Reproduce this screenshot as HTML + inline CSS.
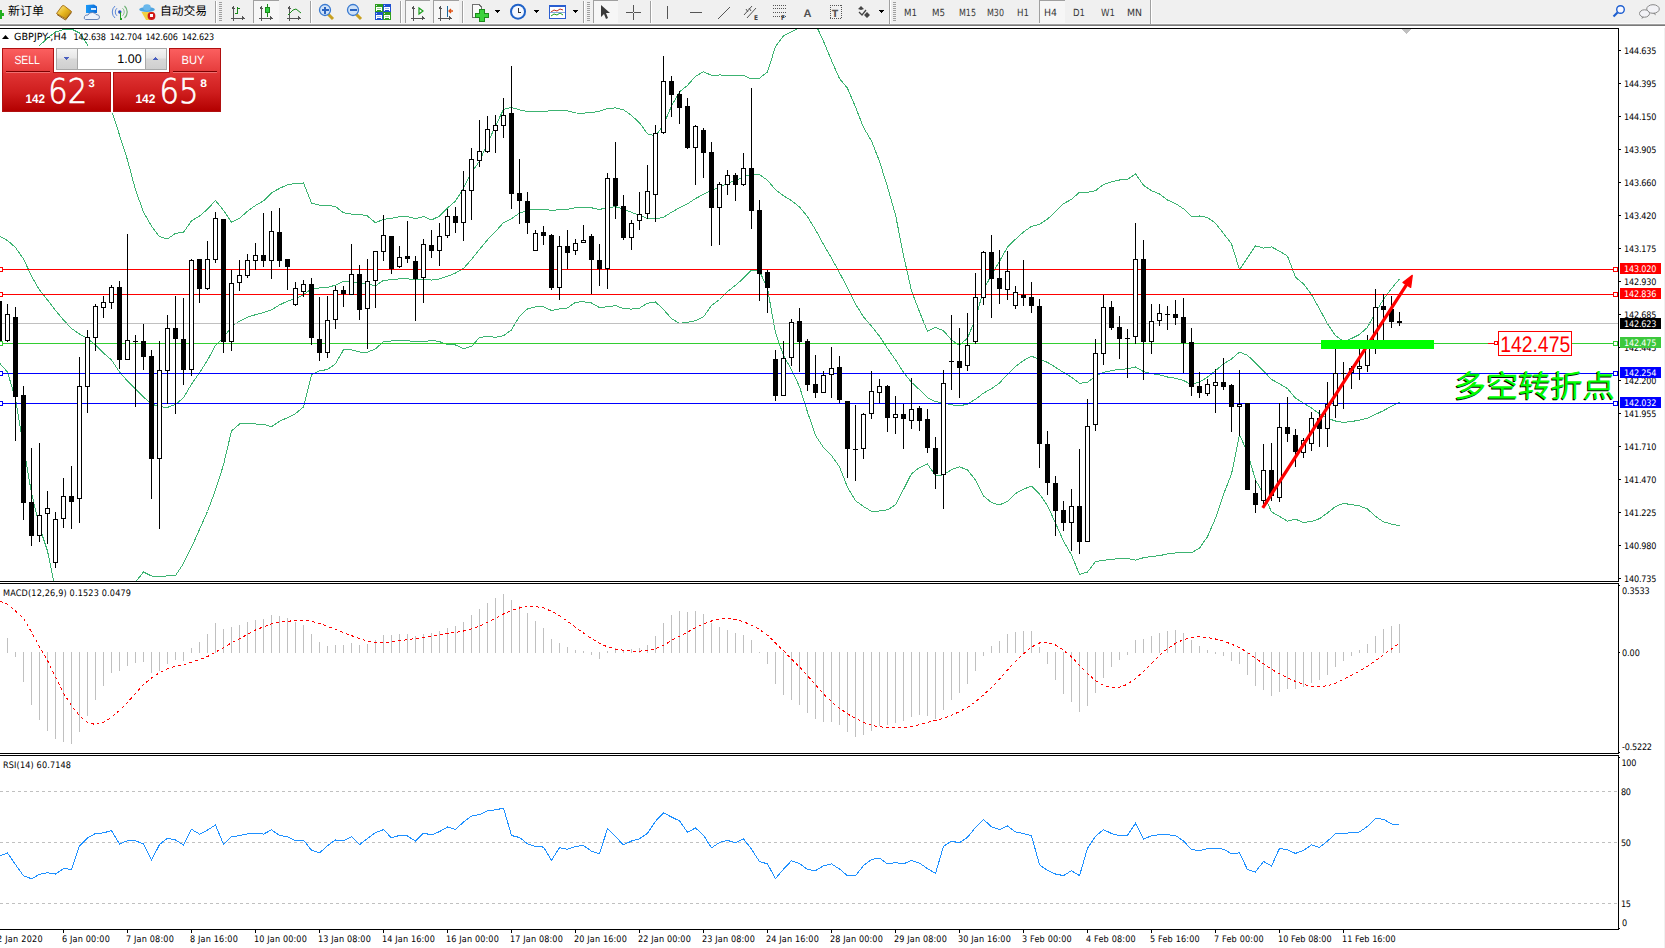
<!DOCTYPE html>
<html><head><meta charset="utf-8"><title>GBPJPY-,H4</title>
<style>html,body{margin:0;padding:0;background:#fff;overflow:hidden}svg{display:block}</style>
</head><body>
<svg width="1665" height="948" viewBox="0 0 1665 948" shape-rendering="crispEdges" text-rendering="geometricPrecision">
<clipPath id="cm"><rect x="0" y="29" width="1618" height="552"/></clipPath>
<clipPath id="cd"><rect x="0" y="584" width="1618" height="169"/></clipPath>
<clipPath id="cr"><rect x="0" y="756" width="1618" height="173"/></clipPath>
<g clip-path="url(#cm)">
<path d="M-0.5,109.0 L7.5,109.0 L15.5,96.0 L23.5,75.0 L31.5,60.0 L39.5,45.7 L47.5,38.0 L55.5,32.0 L63.5,29.5 L71.5,29.0 L79.5,33.0 L87.5,44.5 L95.5,62.0 L103.5,86.0 L111.5,110.0 L119.5,135.0 L127.5,160.0 L135.5,190.0 L143.5,212.0 L151.5,226.0 L159.5,236.7 L167.5,238.9 L175.5,233.4 L183.5,232.3 L191.5,220.8 L199.5,216.1 L207.5,209.2 L215.5,200.5 L223.5,210.4 L231.5,222.3 L239.5,218.2 L247.5,211.3 L255.5,205.4 L263.5,200.9 L271.5,192.9 L279.5,188.4 L287.5,184.8 L295.5,183.5 L303.5,183.0 L311.5,203.0 L319.5,205.2 L327.5,205.5 L335.5,206.5 L343.5,212.8 L351.5,214.1 L359.5,214.1 L367.5,216.0 L375.5,222.8 L383.5,219.3 L391.5,218.4 L399.5,216.7 L407.5,216.6 L415.5,218.8 L423.5,216.5 L431.5,219.9 L439.5,216.2 L447.5,207.9 L455.5,201.1 L463.5,188.1 L471.5,172.5 L479.5,161.2 L487.5,143.3 L495.5,125.8 L503.5,109.5 L511.5,107.4 L519.5,109.9 L527.5,111.6 L535.5,111.9 L543.5,111.9 L551.5,110.2 L559.5,110.6 L567.5,110.9 L575.5,113.0 L583.5,113.1 L591.5,112.6 L599.5,111.3 L607.5,108.5 L615.5,107.9 L623.5,109.7 L631.5,115.5 L639.5,122.8 L647.5,133.8 L655.5,136.0 L663.5,124.9 L671.5,105.9 L679.5,91.9 L687.5,85.4 L695.5,76.2 L703.5,71.8 L711.5,75.3 L719.5,75.0 L727.5,75.1 L735.5,75.6 L743.5,75.5 L751.5,79.0 L759.5,78.2 L767.5,71.9 L775.5,46.5 L783.5,35.8 L791.5,31.8 L799.5,27.3 L807.5,21.4 L815.5,24.0 L823.5,41.3 L831.5,60.5 L839.5,78.6 L847.5,88.2 L855.5,107.1 L863.5,127.4 L871.5,140.9 L879.5,161.4 L887.5,186.9 L895.5,214.8 L903.5,255.4 L911.5,290.9 L919.5,311.8 L927.5,331.4 L935.5,327.4 L943.5,330.8 L951.5,339.9 L959.5,345.3 L967.5,338.2 L975.5,318.5 L983.5,290.2 L991.5,274.7 L999.5,261.3 L1007.5,247.0 L1015.5,239.2 L1023.5,232.0 L1031.5,226.4 L1039.5,224.3 L1047.5,219.2 L1055.5,211.4 L1063.5,203.7 L1071.5,199.4 L1079.5,192.2 L1087.5,192.3 L1095.5,190.7 L1103.5,184.5 L1111.5,181.9 L1119.5,180.0 L1127.5,179.4 L1135.5,173.9 L1143.5,185.3 L1151.5,190.7 L1159.5,193.9 L1167.5,200.1 L1175.5,203.5 L1183.5,208.8 L1191.5,216.4 L1199.5,216.0 L1207.5,217.5 L1215.5,223.2 L1223.5,233.5 L1231.5,243.8 L1239.5,269.6 L1247.5,257.9 L1255.5,245.8 L1263.5,248.1 L1271.5,246.9 L1279.5,251.2 L1287.5,256.1 L1295.5,277.3 L1303.5,283.8 L1311.5,294.6 L1319.5,308.9 L1327.5,323.7 L1335.5,335.6 L1343.5,341.6 L1351.5,338.5 L1359.5,334.5 L1367.5,327.3 L1375.5,312.4 L1383.5,299.3 L1391.5,288.5 L1399.5,279.0" fill="none" stroke="#3cb371" stroke-width="1"/>
<path d="M-0.5,236.0 L7.5,240.5 L15.5,247.5 L23.5,259.0 L31.5,276.0 L39.5,290.0 L47.5,300.0 L55.5,310.5 L63.5,320.0 L71.5,328.5 L79.5,334.0 L87.5,338.5 L95.5,345.0 L103.5,353.0 L111.5,360.0 L119.5,372.0 L127.5,381.0 L135.5,389.0 L143.5,397.0 L151.5,404.0 L159.5,406.7 L167.5,407.4 L175.5,404.5 L183.5,397.8 L191.5,384.1 L199.5,372.8 L207.5,360.3 L215.5,345.3 L223.5,337.6 L231.5,326.6 L239.5,321.1 L247.5,317.2 L255.5,314.7 L263.5,312.6 L271.5,309.8 L279.5,304.9 L287.5,301.2 L295.5,298.5 L303.5,294.9 L311.5,288.8 L319.5,288.0 L327.5,287.5 L335.5,285.1 L343.5,281.3 L351.5,282.0 L359.5,283.0 L367.5,284.1 L375.5,285.8 L383.5,280.4 L391.5,279.7 L399.5,278.8 L407.5,278.8 L415.5,280.0 L423.5,279.1 L431.5,280.1 L439.5,278.9 L447.5,276.3 L455.5,273.1 L463.5,268.4 L471.5,259.4 L479.5,249.4 L487.5,239.8 L495.5,231.6 L503.5,222.6 L511.5,218.6 L519.5,213.1 L527.5,210.3 L535.5,209.4 L543.5,209.4 L551.5,210.3 L559.5,209.8 L567.5,209.4 L575.5,207.6 L583.5,207.4 L591.5,207.8 L599.5,209.5 L607.5,207.6 L615.5,206.7 L623.5,209.1 L631.5,212.3 L639.5,215.4 L647.5,218.5 L655.5,218.9 L663.5,217.2 L671.5,212.3 L679.5,207.6 L687.5,203.8 L695.5,198.5 L703.5,194.4 L711.5,190.3 L719.5,187.3 L727.5,183.4 L735.5,180.5 L743.5,176.9 L751.5,174.4 L759.5,174.7 L767.5,180.2 L775.5,189.7 L783.5,195.7 L791.5,200.6 L799.5,207.0 L807.5,216.7 L815.5,229.7 L823.5,244.4 L831.5,258.1 L839.5,272.7 L847.5,287.7 L855.5,303.9 L863.5,316.9 L871.5,326.1 L879.5,336.2 L887.5,348.4 L895.5,359.8 L903.5,372.4 L911.5,382.3 L919.5,389.7 L927.5,397.7 L935.5,401.6 L943.5,402.8 L951.5,404.8 L959.5,406.0 L967.5,404.0 L975.5,399.3 L983.5,393.1 L991.5,388.7 L999.5,383.1 L1007.5,374.2 L1015.5,366.4 L1023.5,360.5 L1031.5,356.3 L1039.5,359.2 L1047.5,362.4 L1055.5,367.3 L1063.5,372.4 L1071.5,377.3 L1079.5,383.3 L1087.5,382.2 L1095.5,376.1 L1103.5,372.3 L1111.5,370.7 L1119.5,369.2 L1127.5,368.9 L1135.5,367.0 L1143.5,371.5 L1151.5,373.6 L1159.5,374.8 L1167.5,377.0 L1175.5,378.2 L1183.5,380.5 L1191.5,384.6 L1199.5,382.0 L1207.5,377.1 L1215.5,370.7 L1223.5,363.9 L1231.5,359.0 L1239.5,352.1 L1247.5,355.3 L1255.5,362.9 L1263.5,371.0 L1271.5,379.4 L1279.5,383.8 L1287.5,388.6 L1295.5,398.2 L1303.5,403.1 L1311.5,408.0 L1319.5,413.8 L1327.5,418.3 L1335.5,421.0 L1343.5,422.5 L1351.5,421.5 L1359.5,420.2 L1367.5,418.1 L1375.5,414.4 L1383.5,410.6 L1391.5,406.3 L1399.5,402.3" fill="none" stroke="#3cb371" stroke-width="1"/>
<path d="M-0.5,363.0 L7.5,372.0 L15.5,399.0 L23.5,447.0 L31.5,493.0 L39.5,527.0 L47.5,551.0 L55.5,590.0 L63.5,620.0 L71.5,630.0 L79.5,630.0 L87.5,630.0 L95.5,630.0 L103.5,620.0 L111.5,610.0 L119.5,600.0 L127.5,590.0 L135.5,582.0 L143.5,572.0 L151.5,576.0 L159.5,576.6 L167.5,575.9 L175.5,575.6 L183.5,563.4 L191.5,547.4 L199.5,529.4 L207.5,511.5 L215.5,490.0 L223.5,464.8 L231.5,431.0 L239.5,424.0 L247.5,423.2 L255.5,424.0 L263.5,424.3 L271.5,426.7 L279.5,421.3 L287.5,417.6 L295.5,413.6 L303.5,406.9 L311.5,374.6 L319.5,370.7 L327.5,369.6 L335.5,363.7 L343.5,349.8 L351.5,349.9 L359.5,352.0 L367.5,352.2 L375.5,348.8 L383.5,341.6 L391.5,341.0 L399.5,340.9 L407.5,340.9 L415.5,341.2 L423.5,341.8 L431.5,340.3 L439.5,341.6 L447.5,344.7 L455.5,345.0 L463.5,348.6 L471.5,346.4 L479.5,337.5 L487.5,336.4 L495.5,337.3 L503.5,335.8 L511.5,329.9 L519.5,316.3 L527.5,308.9 L535.5,306.8 L543.5,306.9 L551.5,310.5 L559.5,308.9 L567.5,308.0 L575.5,302.2 L583.5,301.7 L591.5,303.0 L599.5,307.6 L607.5,306.7 L615.5,305.6 L623.5,308.5 L631.5,309.1 L639.5,308.1 L647.5,303.2 L655.5,301.9 L663.5,309.5 L671.5,318.7 L679.5,323.4 L687.5,322.3 L695.5,320.8 L703.5,316.9 L711.5,305.4 L719.5,299.5 L727.5,291.6 L735.5,285.3 L743.5,278.2 L751.5,269.9 L759.5,271.1 L767.5,288.5 L775.5,332.9 L783.5,355.5 L791.5,369.5 L799.5,386.7 L807.5,412.1 L815.5,435.4 L823.5,447.5 L831.5,455.6 L839.5,466.8 L847.5,487.3 L855.5,500.7 L863.5,506.5 L871.5,511.3 L879.5,511.0 L887.5,509.8 L895.5,504.8 L903.5,489.4 L911.5,473.7 L919.5,467.6 L927.5,464.0 L935.5,475.7 L943.5,474.8 L951.5,469.7 L959.5,466.8 L967.5,469.9 L975.5,480.0 L983.5,496.0 L991.5,502.6 L999.5,504.9 L1007.5,501.4 L1015.5,493.5 L1023.5,489.1 L1031.5,486.2 L1039.5,494.0 L1047.5,505.6 L1055.5,523.1 L1063.5,541.1 L1071.5,555.1 L1079.5,574.4 L1087.5,572.0 L1095.5,561.5 L1103.5,560.2 L1111.5,559.5 L1119.5,558.5 L1127.5,558.4 L1135.5,560.1 L1143.5,557.7 L1151.5,556.5 L1159.5,555.7 L1167.5,553.9 L1175.5,553.0 L1183.5,552.2 L1191.5,552.8 L1199.5,548.1 L1207.5,536.7 L1215.5,518.2 L1223.5,494.3 L1231.5,474.1 L1239.5,434.5 L1247.5,452.6 L1255.5,480.0 L1263.5,493.9 L1271.5,511.9 L1279.5,516.4 L1287.5,521.1 L1295.5,519.2 L1303.5,522.5 L1311.5,521.4 L1319.5,518.7 L1327.5,512.9 L1335.5,506.5 L1343.5,503.4 L1351.5,504.6 L1359.5,505.9 L1367.5,509.0 L1375.5,516.4 L1383.5,521.8 L1391.5,524.1 L1399.5,525.6" fill="none" stroke="#3cb371" stroke-width="1"/>
<rect x="0" y="323" width="1618" height="1" fill="#c0c0c0" />
<rect x="0" y="269" width="1618" height="1" fill="#ff0000" />
<rect x="0" y="294" width="1618" height="1" fill="#ff0000" />
<rect x="0" y="373" width="1618" height="1" fill="#0000ff" />
<rect x="0" y="403" width="1618" height="1" fill="#0000ff" />
<rect x="0" y="343" width="1618" height="1" fill="#32cd32" />
<rect x="-1" y="301" width="1" height="44" fill="#000" />
<rect x="-3" y="301" width="5" height="40" fill="#000" />
<rect x="7" y="304" width="1" height="38" fill="#000" />
<rect x="5" y="314" width="5" height="27" fill="#000" />
<rect x="6" y="315" width="3" height="25" fill="#fff" />
<rect x="15" y="307" width="1" height="134" fill="#000" />
<rect x="13" y="317" width="5" height="80" fill="#000" />
<rect x="23" y="386" width="1" height="134" fill="#000" />
<rect x="21" y="395" width="5" height="108" fill="#000" />
<rect x="31" y="448" width="1" height="98" fill="#000" />
<rect x="29" y="502" width="5" height="34" fill="#000" />
<rect x="39" y="443" width="1" height="99" fill="#000" />
<rect x="37" y="515" width="5" height="21" fill="#000" />
<rect x="38" y="516" width="3" height="19" fill="#fff" />
<rect x="47" y="491" width="1" height="53" fill="#000" />
<rect x="45" y="508" width="5" height="6" fill="#000" />
<rect x="46" y="509" width="3" height="4" fill="#fff" />
<rect x="55" y="512" width="1" height="56" fill="#000" />
<rect x="53" y="519" width="5" height="44" fill="#000" />
<rect x="54" y="520" width="3" height="42" fill="#fff" />
<rect x="63" y="478" width="1" height="50" fill="#000" />
<rect x="61" y="496" width="5" height="23" fill="#000" />
<rect x="62" y="497" width="3" height="21" fill="#fff" />
<rect x="71" y="466" width="1" height="63" fill="#000" />
<rect x="69" y="496" width="5" height="6" fill="#000" />
<rect x="79" y="357" width="1" height="166" fill="#000" />
<rect x="77" y="386" width="5" height="113" fill="#000" />
<rect x="78" y="387" width="3" height="111" fill="#fff" />
<rect x="87" y="330" width="1" height="83" fill="#000" />
<rect x="85" y="337" width="5" height="50" fill="#000" />
<rect x="86" y="338" width="3" height="48" fill="#fff" />
<rect x="95" y="304" width="1" height="47" fill="#000" />
<rect x="93" y="306" width="5" height="32" fill="#000" />
<rect x="94" y="307" width="3" height="30" fill="#fff" />
<rect x="103" y="296" width="1" height="22" fill="#000" />
<rect x="101" y="302" width="5" height="6" fill="#000" />
<rect x="102" y="303" width="3" height="4" fill="#fff" />
<rect x="111" y="285" width="1" height="24" fill="#000" />
<rect x="109" y="287" width="5" height="16" fill="#000" />
<rect x="110" y="288" width="3" height="14" fill="#fff" />
<rect x="119" y="281" width="1" height="88" fill="#000" />
<rect x="117" y="287" width="5" height="73" fill="#000" />
<rect x="127" y="234" width="1" height="126" fill="#000" />
<rect x="125" y="340" width="5" height="20" fill="#000" />
<rect x="126" y="341" width="3" height="18" fill="#fff" />
<rect x="135" y="335" width="1" height="72" fill="#000" />
<rect x="133" y="341" width="5" height="1" fill="#000" />
<rect x="143" y="324" width="1" height="46" fill="#000" />
<rect x="141" y="341" width="5" height="16" fill="#000" />
<rect x="151" y="350" width="1" height="149" fill="#000" />
<rect x="149" y="356" width="5" height="103" fill="#000" />
<rect x="159" y="341" width="1" height="188" fill="#000" />
<rect x="157" y="370" width="5" height="89" fill="#000" />
<rect x="158" y="371" width="3" height="87" fill="#fff" />
<rect x="167" y="315" width="1" height="89" fill="#000" />
<rect x="165" y="328" width="5" height="43" fill="#000" />
<rect x="166" y="329" width="3" height="41" fill="#fff" />
<rect x="175" y="296" width="1" height="118" fill="#000" />
<rect x="173" y="328" width="5" height="11" fill="#000" />
<rect x="183" y="298" width="1" height="87" fill="#000" />
<rect x="181" y="339" width="5" height="31" fill="#000" />
<rect x="191" y="259" width="1" height="117" fill="#000" />
<rect x="189" y="260" width="5" height="110" fill="#000" />
<rect x="190" y="261" width="3" height="108" fill="#fff" />
<rect x="199" y="259" width="1" height="44" fill="#000" />
<rect x="197" y="259" width="5" height="30" fill="#000" />
<rect x="207" y="241" width="1" height="49" fill="#000" />
<rect x="205" y="259" width="5" height="30" fill="#000" />
<rect x="206" y="260" width="3" height="28" fill="#fff" />
<rect x="215" y="212" width="1" height="51" fill="#000" />
<rect x="213" y="218" width="5" height="42" fill="#000" />
<rect x="214" y="219" width="3" height="40" fill="#fff" />
<rect x="223" y="219" width="1" height="134" fill="#000" />
<rect x="221" y="219" width="5" height="123" fill="#000" />
<rect x="231" y="270" width="1" height="81" fill="#000" />
<rect x="229" y="283" width="5" height="59" fill="#000" />
<rect x="230" y="284" width="3" height="57" fill="#fff" />
<rect x="239" y="260" width="1" height="31" fill="#000" />
<rect x="237" y="275" width="5" height="8" fill="#000" />
<rect x="238" y="276" width="3" height="6" fill="#fff" />
<rect x="247" y="254" width="1" height="24" fill="#000" />
<rect x="245" y="260" width="5" height="16" fill="#000" />
<rect x="246" y="261" width="3" height="14" fill="#fff" />
<rect x="255" y="243" width="1" height="27" fill="#000" />
<rect x="253" y="255" width="5" height="6" fill="#000" />
<rect x="254" y="256" width="3" height="4" fill="#fff" />
<rect x="263" y="213" width="1" height="54" fill="#000" />
<rect x="261" y="255" width="5" height="6" fill="#000" />
<rect x="271" y="211" width="1" height="68" fill="#000" />
<rect x="269" y="231" width="5" height="30" fill="#000" />
<rect x="270" y="232" width="3" height="28" fill="#fff" />
<rect x="279" y="208" width="1" height="59" fill="#000" />
<rect x="277" y="232" width="5" height="29" fill="#000" />
<rect x="287" y="259" width="1" height="31" fill="#000" />
<rect x="285" y="259" width="5" height="8" fill="#000" />
<rect x="295" y="282" width="1" height="24" fill="#000" />
<rect x="293" y="288" width="5" height="17" fill="#000" />
<rect x="294" y="289" width="3" height="15" fill="#fff" />
<rect x="303" y="280" width="1" height="17" fill="#000" />
<rect x="301" y="284" width="5" height="8" fill="#000" />
<rect x="302" y="285" width="3" height="6" fill="#fff" />
<rect x="311" y="278" width="1" height="67" fill="#000" />
<rect x="309" y="284" width="5" height="54" fill="#000" />
<rect x="319" y="297" width="1" height="64" fill="#000" />
<rect x="317" y="339" width="5" height="14" fill="#000" />
<rect x="327" y="296" width="1" height="62" fill="#000" />
<rect x="325" y="320" width="5" height="33" fill="#000" />
<rect x="326" y="321" width="3" height="31" fill="#fff" />
<rect x="335" y="286" width="1" height="43" fill="#000" />
<rect x="333" y="290" width="5" height="30" fill="#000" />
<rect x="334" y="291" width="3" height="28" fill="#fff" />
<rect x="343" y="286" width="1" height="21" fill="#000" />
<rect x="341" y="290" width="5" height="4" fill="#000" />
<rect x="351" y="244" width="1" height="51" fill="#000" />
<rect x="349" y="274" width="5" height="21" fill="#000" />
<rect x="350" y="275" width="3" height="19" fill="#fff" />
<rect x="359" y="265" width="1" height="55" fill="#000" />
<rect x="357" y="274" width="5" height="36" fill="#000" />
<rect x="367" y="259" width="1" height="90" fill="#000" />
<rect x="365" y="281" width="5" height="28" fill="#000" />
<rect x="366" y="282" width="3" height="26" fill="#fff" />
<rect x="375" y="251" width="1" height="57" fill="#000" />
<rect x="373" y="251" width="5" height="30" fill="#000" />
<rect x="374" y="252" width="3" height="28" fill="#fff" />
<rect x="383" y="215" width="1" height="46" fill="#000" />
<rect x="381" y="235" width="5" height="17" fill="#000" />
<rect x="382" y="236" width="3" height="15" fill="#fff" />
<rect x="391" y="236" width="1" height="38" fill="#000" />
<rect x="389" y="236" width="5" height="33" fill="#000" />
<rect x="399" y="246" width="1" height="22" fill="#000" />
<rect x="397" y="257" width="5" height="10" fill="#000" />
<rect x="398" y="258" width="3" height="8" fill="#fff" />
<rect x="407" y="221" width="1" height="42" fill="#000" />
<rect x="405" y="256" width="5" height="3" fill="#000" />
<rect x="415" y="256" width="1" height="65" fill="#000" />
<rect x="413" y="261" width="5" height="18" fill="#000" />
<rect x="423" y="239" width="1" height="64" fill="#000" />
<rect x="421" y="244" width="5" height="34" fill="#000" />
<rect x="422" y="245" width="3" height="32" fill="#fff" />
<rect x="431" y="230" width="1" height="28" fill="#000" />
<rect x="429" y="245" width="5" height="6" fill="#000" />
<rect x="439" y="223" width="1" height="43" fill="#000" />
<rect x="437" y="236" width="5" height="15" fill="#000" />
<rect x="438" y="237" width="3" height="13" fill="#fff" />
<rect x="447" y="209" width="1" height="29" fill="#000" />
<rect x="445" y="216" width="5" height="20" fill="#000" />
<rect x="446" y="217" width="3" height="18" fill="#fff" />
<rect x="455" y="207" width="1" height="26" fill="#000" />
<rect x="453" y="216" width="5" height="7" fill="#000" />
<rect x="463" y="171" width="1" height="70" fill="#000" />
<rect x="461" y="190" width="5" height="33" fill="#000" />
<rect x="462" y="191" width="3" height="31" fill="#fff" />
<rect x="471" y="148" width="1" height="72" fill="#000" />
<rect x="469" y="159" width="5" height="32" fill="#000" />
<rect x="470" y="160" width="3" height="30" fill="#fff" />
<rect x="479" y="120" width="1" height="47" fill="#000" />
<rect x="477" y="151" width="5" height="10" fill="#000" />
<rect x="478" y="152" width="3" height="8" fill="#fff" />
<rect x="487" y="116" width="1" height="37" fill="#000" />
<rect x="485" y="129" width="5" height="23" fill="#000" />
<rect x="486" y="130" width="3" height="21" fill="#fff" />
<rect x="495" y="115" width="1" height="38" fill="#000" />
<rect x="493" y="125" width="5" height="6" fill="#000" />
<rect x="494" y="126" width="3" height="4" fill="#fff" />
<rect x="503" y="98" width="1" height="40" fill="#000" />
<rect x="501" y="115" width="5" height="11" fill="#000" />
<rect x="502" y="116" width="3" height="9" fill="#fff" />
<rect x="511" y="66" width="1" height="143" fill="#000" />
<rect x="509" y="113" width="5" height="81" fill="#000" />
<rect x="519" y="159" width="1" height="65" fill="#000" />
<rect x="517" y="193" width="5" height="8" fill="#000" />
<rect x="527" y="192" width="1" height="42" fill="#000" />
<rect x="525" y="201" width="5" height="22" fill="#000" />
<rect x="535" y="230" width="1" height="21" fill="#000" />
<rect x="533" y="233" width="5" height="18" fill="#000" />
<rect x="534" y="234" width="3" height="16" fill="#fff" />
<rect x="543" y="226" width="1" height="19" fill="#000" />
<rect x="541" y="232" width="5" height="4" fill="#000" />
<rect x="551" y="234" width="1" height="56" fill="#000" />
<rect x="549" y="235" width="5" height="53" fill="#000" />
<rect x="559" y="236" width="1" height="64" fill="#000" />
<rect x="557" y="246" width="5" height="42" fill="#000" />
<rect x="558" y="247" width="3" height="40" fill="#fff" />
<rect x="567" y="230" width="1" height="39" fill="#000" />
<rect x="565" y="246" width="5" height="7" fill="#000" />
<rect x="575" y="239" width="1" height="16" fill="#000" />
<rect x="573" y="243" width="5" height="8" fill="#000" />
<rect x="574" y="244" width="3" height="6" fill="#fff" />
<rect x="583" y="225" width="1" height="18" fill="#000" />
<rect x="581" y="240" width="5" height="3" fill="#000" />
<rect x="582" y="241" width="3" height="1" fill="#fff" />
<rect x="591" y="234" width="1" height="60" fill="#000" />
<rect x="589" y="236" width="5" height="24" fill="#000" />
<rect x="599" y="244" width="1" height="42" fill="#000" />
<rect x="597" y="260" width="5" height="9" fill="#000" />
<rect x="607" y="173" width="1" height="116" fill="#000" />
<rect x="605" y="178" width="5" height="91" fill="#000" />
<rect x="606" y="179" width="3" height="89" fill="#fff" />
<rect x="615" y="142" width="1" height="77" fill="#000" />
<rect x="613" y="178" width="5" height="28" fill="#000" />
<rect x="623" y="195" width="1" height="45" fill="#000" />
<rect x="621" y="206" width="5" height="32" fill="#000" />
<rect x="631" y="220" width="1" height="30" fill="#000" />
<rect x="629" y="223" width="5" height="15" fill="#000" />
<rect x="630" y="224" width="3" height="13" fill="#fff" />
<rect x="639" y="192" width="1" height="38" fill="#000" />
<rect x="637" y="214" width="5" height="7" fill="#000" />
<rect x="638" y="215" width="3" height="5" fill="#fff" />
<rect x="647" y="165" width="1" height="54" fill="#000" />
<rect x="645" y="191" width="5" height="23" fill="#000" />
<rect x="646" y="192" width="3" height="21" fill="#fff" />
<rect x="655" y="125" width="1" height="97" fill="#000" />
<rect x="653" y="133" width="5" height="62" fill="#000" />
<rect x="654" y="134" width="3" height="60" fill="#fff" />
<rect x="663" y="56" width="1" height="78" fill="#000" />
<rect x="661" y="81" width="5" height="52" fill="#000" />
<rect x="662" y="82" width="3" height="50" fill="#fff" />
<rect x="671" y="76" width="1" height="41" fill="#000" />
<rect x="669" y="81" width="5" height="14" fill="#000" />
<rect x="679" y="91" width="1" height="33" fill="#000" />
<rect x="677" y="94" width="5" height="14" fill="#000" />
<rect x="687" y="98" width="1" height="51" fill="#000" />
<rect x="685" y="106" width="5" height="42" fill="#000" />
<rect x="695" y="125" width="1" height="60" fill="#000" />
<rect x="693" y="126" width="5" height="22" fill="#000" />
<rect x="694" y="127" width="3" height="20" fill="#fff" />
<rect x="703" y="128" width="1" height="50" fill="#000" />
<rect x="701" y="130" width="5" height="23" fill="#000" />
<rect x="711" y="142" width="1" height="104" fill="#000" />
<rect x="709" y="152" width="5" height="56" fill="#000" />
<rect x="719" y="182" width="1" height="63" fill="#000" />
<rect x="717" y="184" width="5" height="24" fill="#000" />
<rect x="718" y="185" width="3" height="22" fill="#fff" />
<rect x="727" y="170" width="1" height="25" fill="#000" />
<rect x="725" y="175" width="5" height="10" fill="#000" />
<rect x="726" y="176" width="3" height="8" fill="#fff" />
<rect x="735" y="173" width="1" height="28" fill="#000" />
<rect x="733" y="175" width="5" height="10" fill="#000" />
<rect x="743" y="153" width="1" height="33" fill="#000" />
<rect x="741" y="168" width="5" height="17" fill="#000" />
<rect x="742" y="169" width="3" height="15" fill="#fff" />
<rect x="751" y="88" width="1" height="141" fill="#000" />
<rect x="749" y="168" width="5" height="43" fill="#000" />
<rect x="759" y="200" width="1" height="101" fill="#000" />
<rect x="757" y="210" width="5" height="64" fill="#000" />
<rect x="767" y="270" width="1" height="43" fill="#000" />
<rect x="765" y="272" width="5" height="16" fill="#000" />
<rect x="775" y="350" width="1" height="51" fill="#000" />
<rect x="773" y="359" width="5" height="37" fill="#000" />
<rect x="783" y="341" width="1" height="55" fill="#000" />
<rect x="781" y="358" width="5" height="38" fill="#000" />
<rect x="782" y="359" width="3" height="36" fill="#fff" />
<rect x="791" y="319" width="1" height="47" fill="#000" />
<rect x="789" y="322" width="5" height="36" fill="#000" />
<rect x="790" y="323" width="3" height="34" fill="#fff" />
<rect x="799" y="308" width="1" height="64" fill="#000" />
<rect x="797" y="321" width="5" height="21" fill="#000" />
<rect x="807" y="339" width="1" height="52" fill="#000" />
<rect x="805" y="341" width="5" height="44" fill="#000" />
<rect x="815" y="355" width="1" height="43" fill="#000" />
<rect x="813" y="384" width="5" height="9" fill="#000" />
<rect x="823" y="371" width="1" height="22" fill="#000" />
<rect x="821" y="375" width="5" height="18" fill="#000" />
<rect x="822" y="376" width="3" height="16" fill="#fff" />
<rect x="831" y="347" width="1" height="51" fill="#000" />
<rect x="829" y="368" width="5" height="7" fill="#000" />
<rect x="830" y="369" width="3" height="5" fill="#fff" />
<rect x="839" y="356" width="1" height="47" fill="#000" />
<rect x="837" y="367" width="5" height="33" fill="#000" />
<rect x="847" y="401" width="1" height="77" fill="#000" />
<rect x="845" y="401" width="5" height="48" fill="#000" />
<rect x="855" y="405" width="1" height="76" fill="#000" />
<rect x="853" y="449" width="5" height="1" fill="#000" />
<rect x="863" y="413" width="1" height="46" fill="#000" />
<rect x="861" y="414" width="5" height="35" fill="#000" />
<rect x="862" y="415" width="3" height="33" fill="#fff" />
<rect x="871" y="371" width="1" height="48" fill="#000" />
<rect x="869" y="391" width="5" height="23" fill="#000" />
<rect x="870" y="392" width="3" height="21" fill="#fff" />
<rect x="879" y="379" width="1" height="24" fill="#000" />
<rect x="877" y="386" width="5" height="7" fill="#000" />
<rect x="878" y="387" width="3" height="5" fill="#fff" />
<rect x="887" y="385" width="1" height="47" fill="#000" />
<rect x="885" y="386" width="5" height="32" fill="#000" />
<rect x="895" y="396" width="1" height="38" fill="#000" />
<rect x="893" y="414" width="5" height="4" fill="#000" />
<rect x="894" y="415" width="3" height="2" fill="#fff" />
<rect x="903" y="404" width="1" height="45" fill="#000" />
<rect x="901" y="414" width="5" height="5" fill="#000" />
<rect x="911" y="378" width="1" height="51" fill="#000" />
<rect x="909" y="409" width="5" height="12" fill="#000" />
<rect x="910" y="410" width="3" height="10" fill="#fff" />
<rect x="919" y="406" width="1" height="25" fill="#000" />
<rect x="917" y="408" width="5" height="13" fill="#000" />
<rect x="927" y="409" width="1" height="44" fill="#000" />
<rect x="925" y="419" width="5" height="29" fill="#000" />
<rect x="935" y="437" width="1" height="52" fill="#000" />
<rect x="933" y="448" width="5" height="26" fill="#000" />
<rect x="943" y="370" width="1" height="139" fill="#000" />
<rect x="941" y="383" width="5" height="92" fill="#000" />
<rect x="942" y="384" width="3" height="90" fill="#fff" />
<rect x="951" y="315" width="1" height="75" fill="#000" />
<rect x="949" y="361" width="5" height="1" fill="#000" />
<rect x="959" y="328" width="1" height="70" fill="#000" />
<rect x="957" y="361" width="5" height="7" fill="#000" />
<rect x="967" y="313" width="1" height="58" fill="#000" />
<rect x="965" y="345" width="5" height="21" fill="#000" />
<rect x="966" y="346" width="3" height="19" fill="#fff" />
<rect x="975" y="273" width="1" height="71" fill="#000" />
<rect x="973" y="297" width="5" height="45" fill="#000" />
<rect x="974" y="298" width="3" height="43" fill="#fff" />
<rect x="983" y="251" width="1" height="54" fill="#000" />
<rect x="981" y="252" width="5" height="46" fill="#000" />
<rect x="982" y="253" width="3" height="44" fill="#fff" />
<rect x="991" y="235" width="1" height="83" fill="#000" />
<rect x="989" y="252" width="5" height="27" fill="#000" />
<rect x="999" y="250" width="1" height="54" fill="#000" />
<rect x="997" y="278" width="5" height="11" fill="#000" />
<rect x="1007" y="251" width="1" height="49" fill="#000" />
<rect x="1005" y="271" width="5" height="19" fill="#000" />
<rect x="1006" y="272" width="3" height="17" fill="#fff" />
<rect x="1015" y="286" width="1" height="23" fill="#000" />
<rect x="1013" y="292" width="5" height="14" fill="#000" />
<rect x="1014" y="293" width="3" height="12" fill="#fff" />
<rect x="1023" y="260" width="1" height="46" fill="#000" />
<rect x="1021" y="295" width="5" height="3" fill="#000" />
<rect x="1031" y="282" width="1" height="31" fill="#000" />
<rect x="1029" y="297" width="5" height="9" fill="#000" />
<rect x="1039" y="299" width="1" height="169" fill="#000" />
<rect x="1037" y="306" width="5" height="138" fill="#000" />
<rect x="1047" y="431" width="1" height="64" fill="#000" />
<rect x="1045" y="444" width="5" height="39" fill="#000" />
<rect x="1055" y="476" width="1" height="60" fill="#000" />
<rect x="1053" y="483" width="5" height="28" fill="#000" />
<rect x="1063" y="501" width="1" height="30" fill="#000" />
<rect x="1061" y="510" width="5" height="13" fill="#000" />
<rect x="1071" y="489" width="1" height="62" fill="#000" />
<rect x="1069" y="506" width="5" height="17" fill="#000" />
<rect x="1070" y="507" width="3" height="15" fill="#fff" />
<rect x="1079" y="449" width="1" height="105" fill="#000" />
<rect x="1077" y="506" width="5" height="36" fill="#000" />
<rect x="1087" y="399" width="1" height="143" fill="#000" />
<rect x="1085" y="426" width="5" height="116" fill="#000" />
<rect x="1086" y="427" width="3" height="114" fill="#fff" />
<rect x="1095" y="339" width="1" height="92" fill="#000" />
<rect x="1093" y="353" width="5" height="72" fill="#000" />
<rect x="1094" y="354" width="3" height="70" fill="#fff" />
<rect x="1103" y="295" width="1" height="70" fill="#000" />
<rect x="1101" y="307" width="5" height="47" fill="#000" />
<rect x="1102" y="308" width="3" height="45" fill="#fff" />
<rect x="1111" y="301" width="1" height="29" fill="#000" />
<rect x="1109" y="307" width="5" height="21" fill="#000" />
<rect x="1119" y="316" width="1" height="43" fill="#000" />
<rect x="1117" y="327" width="5" height="12" fill="#000" />
<rect x="1127" y="329" width="1" height="49" fill="#000" />
<rect x="1125" y="338" width="5" height="1" fill="#000" />
<rect x="1135" y="223" width="1" height="121" fill="#000" />
<rect x="1133" y="259" width="5" height="78" fill="#000" />
<rect x="1134" y="260" width="3" height="76" fill="#fff" />
<rect x="1143" y="240" width="1" height="140" fill="#000" />
<rect x="1141" y="259" width="5" height="83" fill="#000" />
<rect x="1151" y="304" width="1" height="50" fill="#000" />
<rect x="1149" y="321" width="5" height="21" fill="#000" />
<rect x="1150" y="322" width="3" height="19" fill="#fff" />
<rect x="1159" y="304" width="1" height="22" fill="#000" />
<rect x="1157" y="313" width="5" height="8" fill="#000" />
<rect x="1158" y="314" width="3" height="6" fill="#fff" />
<rect x="1167" y="306" width="1" height="24" fill="#000" />
<rect x="1165" y="314" width="5" height="1" fill="#000" />
<rect x="1175" y="300" width="1" height="25" fill="#000" />
<rect x="1173" y="314" width="5" height="4" fill="#000" />
<rect x="1183" y="298" width="1" height="75" fill="#000" />
<rect x="1181" y="317" width="5" height="26" fill="#000" />
<rect x="1191" y="328" width="1" height="68" fill="#000" />
<rect x="1189" y="342" width="5" height="45" fill="#000" />
<rect x="1199" y="372" width="1" height="26" fill="#000" />
<rect x="1197" y="386" width="5" height="7" fill="#000" />
<rect x="1207" y="379" width="1" height="17" fill="#000" />
<rect x="1205" y="384" width="5" height="10" fill="#000" />
<rect x="1206" y="385" width="3" height="8" fill="#fff" />
<rect x="1215" y="369" width="1" height="44" fill="#000" />
<rect x="1213" y="382" width="5" height="4" fill="#000" />
<rect x="1214" y="383" width="3" height="2" fill="#fff" />
<rect x="1223" y="358" width="1" height="32" fill="#000" />
<rect x="1221" y="382" width="5" height="5" fill="#000" />
<rect x="1231" y="384" width="1" height="48" fill="#000" />
<rect x="1229" y="385" width="5" height="22" fill="#000" />
<rect x="1239" y="370" width="1" height="66" fill="#000" />
<rect x="1237" y="404" width="5" height="3" fill="#000" />
<rect x="1238" y="405" width="3" height="1" fill="#fff" />
<rect x="1247" y="403" width="1" height="87" fill="#000" />
<rect x="1245" y="403" width="5" height="87" fill="#000" />
<rect x="1255" y="480" width="1" height="33" fill="#000" />
<rect x="1253" y="493" width="5" height="12" fill="#000" />
<rect x="1263" y="444" width="1" height="60" fill="#000" />
<rect x="1261" y="470" width="5" height="31" fill="#000" />
<rect x="1262" y="471" width="3" height="29" fill="#fff" />
<rect x="1271" y="443" width="1" height="58" fill="#000" />
<rect x="1269" y="470" width="5" height="26" fill="#000" />
<rect x="1279" y="403" width="1" height="99" fill="#000" />
<rect x="1277" y="427" width="5" height="71" fill="#000" />
<rect x="1278" y="428" width="3" height="69" fill="#fff" />
<rect x="1287" y="397" width="1" height="45" fill="#000" />
<rect x="1285" y="427" width="5" height="7" fill="#000" />
<rect x="1295" y="429" width="1" height="38" fill="#000" />
<rect x="1293" y="435" width="5" height="17" fill="#000" />
<rect x="1303" y="438" width="1" height="20" fill="#000" />
<rect x="1301" y="440" width="5" height="13" fill="#000" />
<rect x="1302" y="441" width="3" height="11" fill="#fff" />
<rect x="1311" y="412" width="1" height="39" fill="#000" />
<rect x="1309" y="418" width="5" height="26" fill="#000" />
<rect x="1310" y="419" width="3" height="24" fill="#fff" />
<rect x="1319" y="410" width="1" height="37" fill="#000" />
<rect x="1317" y="418" width="5" height="11" fill="#000" />
<rect x="1327" y="382" width="1" height="65" fill="#000" />
<rect x="1325" y="404" width="5" height="25" fill="#000" />
<rect x="1326" y="405" width="3" height="23" fill="#fff" />
<rect x="1335" y="349" width="1" height="69" fill="#000" />
<rect x="1333" y="373" width="5" height="33" fill="#000" />
<rect x="1334" y="374" width="3" height="31" fill="#fff" />
<rect x="1343" y="362" width="1" height="47" fill="#000" />
<rect x="1341" y="373" width="5" height="1" fill="#000" />
<rect x="1351" y="366" width="1" height="23" fill="#000" />
<rect x="1349" y="368" width="5" height="5" fill="#000" />
<rect x="1350" y="369" width="3" height="3" fill="#fff" />
<rect x="1359" y="349" width="1" height="31" fill="#000" />
<rect x="1357" y="366" width="5" height="3" fill="#000" />
<rect x="1358" y="367" width="3" height="1" fill="#fff" />
<rect x="1367" y="335" width="1" height="37" fill="#000" />
<rect x="1365" y="343" width="5" height="23" fill="#000" />
<rect x="1366" y="344" width="3" height="21" fill="#fff" />
<rect x="1375" y="289" width="1" height="65" fill="#000" />
<rect x="1373" y="307" width="5" height="36" fill="#000" />
<rect x="1374" y="308" width="3" height="34" fill="#fff" />
<rect x="1383" y="294" width="1" height="46" fill="#000" />
<rect x="1381" y="306" width="5" height="4" fill="#000" />
<rect x="1391" y="296" width="1" height="32" fill="#000" />
<rect x="1389" y="309" width="5" height="13" fill="#000" />
<rect x="1399" y="312" width="1" height="14" fill="#000" />
<rect x="1397" y="321" width="5" height="2" fill="#000" />
</g>
<g clip-path="url(#cd)">
<rect x="7" y="638" width="1" height="15" fill="#c0c0c0" />
<rect x="15" y="652" width="1" height="5" fill="#c0c0c0" />
<rect x="23" y="652" width="1" height="30" fill="#c0c0c0" />
<rect x="31" y="652" width="1" height="53" fill="#c0c0c0" />
<rect x="39" y="652" width="1" height="68" fill="#c0c0c0" />
<rect x="47" y="652" width="1" height="79" fill="#c0c0c0" />
<rect x="55" y="652" width="1" height="87" fill="#c0c0c0" />
<rect x="63" y="652" width="1" height="90" fill="#c0c0c0" />
<rect x="71" y="652" width="1" height="92" fill="#c0c0c0" />
<rect x="79" y="652" width="1" height="80" fill="#c0c0c0" />
<rect x="87" y="652" width="1" height="64" fill="#c0c0c0" />
<rect x="95" y="652" width="1" height="48" fill="#c0c0c0" />
<rect x="103" y="652" width="1" height="34" fill="#c0c0c0" />
<rect x="111" y="652" width="1" height="21" fill="#c0c0c0" />
<rect x="119" y="652" width="1" height="19" fill="#c0c0c0" />
<rect x="127" y="652" width="1" height="14" fill="#c0c0c0" />
<rect x="135" y="652" width="1" height="11" fill="#c0c0c0" />
<rect x="143" y="652" width="1" height="10" fill="#c0c0c0" />
<rect x="151" y="652" width="1" height="21" fill="#c0c0c0" />
<rect x="159" y="652" width="1" height="19" fill="#c0c0c0" />
<rect x="167" y="652" width="1" height="12" fill="#c0c0c0" />
<rect x="175" y="652" width="1" height="8" fill="#c0c0c0" />
<rect x="183" y="652" width="1" height="9" fill="#c0c0c0" />
<rect x="191" y="648" width="1" height="5" fill="#c0c0c0" />
<rect x="199" y="642" width="1" height="11" fill="#c0c0c0" />
<rect x="207" y="634" width="1" height="19" fill="#c0c0c0" />
<rect x="215" y="623" width="1" height="30" fill="#c0c0c0" />
<rect x="223" y="629" width="1" height="24" fill="#c0c0c0" />
<rect x="231" y="627" width="1" height="26" fill="#c0c0c0" />
<rect x="239" y="625" width="1" height="28" fill="#c0c0c0" />
<rect x="247" y="622" width="1" height="31" fill="#c0c0c0" />
<rect x="255" y="620" width="1" height="33" fill="#c0c0c0" />
<rect x="263" y="619" width="1" height="34" fill="#c0c0c0" />
<rect x="271" y="615" width="1" height="38" fill="#c0c0c0" />
<rect x="279" y="616" width="1" height="37" fill="#c0c0c0" />
<rect x="287" y="618" width="1" height="35" fill="#c0c0c0" />
<rect x="295" y="622" width="1" height="31" fill="#c0c0c0" />
<rect x="303" y="625" width="1" height="28" fill="#c0c0c0" />
<rect x="311" y="634" width="1" height="19" fill="#c0c0c0" />
<rect x="319" y="642" width="1" height="11" fill="#c0c0c0" />
<rect x="327" y="646" width="1" height="7" fill="#c0c0c0" />
<rect x="335" y="645" width="1" height="8" fill="#c0c0c0" />
<rect x="343" y="645" width="1" height="8" fill="#c0c0c0" />
<rect x="351" y="643" width="1" height="10" fill="#c0c0c0" />
<rect x="359" y="645" width="1" height="8" fill="#c0c0c0" />
<rect x="367" y="644" width="1" height="9" fill="#c0c0c0" />
<rect x="375" y="640" width="1" height="13" fill="#c0c0c0" />
<rect x="383" y="635" width="1" height="18" fill="#c0c0c0" />
<rect x="391" y="635" width="1" height="18" fill="#c0c0c0" />
<rect x="399" y="634" width="1" height="19" fill="#c0c0c0" />
<rect x="407" y="634" width="1" height="19" fill="#c0c0c0" />
<rect x="415" y="636" width="1" height="17" fill="#c0c0c0" />
<rect x="423" y="634" width="1" height="19" fill="#c0c0c0" />
<rect x="431" y="633" width="1" height="20" fill="#c0c0c0" />
<rect x="439" y="631" width="1" height="22" fill="#c0c0c0" />
<rect x="447" y="628" width="1" height="25" fill="#c0c0c0" />
<rect x="455" y="626" width="1" height="27" fill="#c0c0c0" />
<rect x="463" y="622" width="1" height="31" fill="#c0c0c0" />
<rect x="471" y="615" width="1" height="38" fill="#c0c0c0" />
<rect x="479" y="609" width="1" height="44" fill="#c0c0c0" />
<rect x="487" y="603" width="1" height="50" fill="#c0c0c0" />
<rect x="495" y="598" width="1" height="55" fill="#c0c0c0" />
<rect x="503" y="594" width="1" height="59" fill="#c0c0c0" />
<rect x="511" y="600" width="1" height="53" fill="#c0c0c0" />
<rect x="519" y="606" width="1" height="47" fill="#c0c0c0" />
<rect x="527" y="613" width="1" height="40" fill="#c0c0c0" />
<rect x="535" y="621" width="1" height="32" fill="#c0c0c0" />
<rect x="543" y="628" width="1" height="25" fill="#c0c0c0" />
<rect x="551" y="639" width="1" height="14" fill="#c0c0c0" />
<rect x="559" y="643" width="1" height="10" fill="#c0c0c0" />
<rect x="567" y="647" width="1" height="6" fill="#c0c0c0" />
<rect x="575" y="650" width="1" height="3" fill="#c0c0c0" />
<rect x="583" y="651" width="1" height="2" fill="#c0c0c0" />
<rect x="591" y="652" width="1" height="3" fill="#c0c0c0" />
<rect x="599" y="652" width="1" height="7" fill="#c0c0c0" />
<rect x="607" y="651" width="1" height="2" fill="#c0c0c0" />
<rect x="615" y="648" width="1" height="5" fill="#c0c0c0" />
<rect x="623" y="650" width="1" height="3" fill="#c0c0c0" />
<rect x="631" y="649" width="1" height="4" fill="#c0c0c0" />
<rect x="639" y="648" width="1" height="5" fill="#c0c0c0" />
<rect x="647" y="645" width="1" height="8" fill="#c0c0c0" />
<rect x="655" y="636" width="1" height="17" fill="#c0c0c0" />
<rect x="663" y="623" width="1" height="30" fill="#c0c0c0" />
<rect x="671" y="615" width="1" height="38" fill="#c0c0c0" />
<rect x="679" y="611" width="1" height="42" fill="#c0c0c0" />
<rect x="687" y="612" width="1" height="41" fill="#c0c0c0" />
<rect x="695" y="611" width="1" height="42" fill="#c0c0c0" />
<rect x="703" y="614" width="1" height="39" fill="#c0c0c0" />
<rect x="711" y="623" width="1" height="30" fill="#c0c0c0" />
<rect x="719" y="627" width="1" height="26" fill="#c0c0c0" />
<rect x="727" y="630" width="1" height="23" fill="#c0c0c0" />
<rect x="735" y="633" width="1" height="20" fill="#c0c0c0" />
<rect x="743" y="635" width="1" height="18" fill="#c0c0c0" />
<rect x="751" y="640" width="1" height="13" fill="#c0c0c0" />
<rect x="759" y="652" width="1" height="1" fill="#c0c0c0" />
<rect x="767" y="652" width="1" height="12" fill="#c0c0c0" />
<rect x="775" y="652" width="1" height="32" fill="#c0c0c0" />
<rect x="783" y="652" width="1" height="43" fill="#c0c0c0" />
<rect x="791" y="652" width="1" height="48" fill="#c0c0c0" />
<rect x="799" y="652" width="1" height="53" fill="#c0c0c0" />
<rect x="807" y="652" width="1" height="61" fill="#c0c0c0" />
<rect x="815" y="652" width="1" height="67" fill="#c0c0c0" />
<rect x="823" y="652" width="1" height="70" fill="#c0c0c0" />
<rect x="831" y="652" width="1" height="70" fill="#c0c0c0" />
<rect x="839" y="652" width="1" height="73" fill="#c0c0c0" />
<rect x="847" y="652" width="1" height="80" fill="#c0c0c0" />
<rect x="855" y="652" width="1" height="85" fill="#c0c0c0" />
<rect x="863" y="652" width="1" height="83" fill="#c0c0c0" />
<rect x="871" y="652" width="1" height="79" fill="#c0c0c0" />
<rect x="879" y="652" width="1" height="74" fill="#c0c0c0" />
<rect x="887" y="652" width="1" height="73" fill="#c0c0c0" />
<rect x="895" y="652" width="1" height="71" fill="#c0c0c0" />
<rect x="903" y="652" width="1" height="69" fill="#c0c0c0" />
<rect x="911" y="652" width="1" height="65" fill="#c0c0c0" />
<rect x="919" y="652" width="1" height="63" fill="#c0c0c0" />
<rect x="927" y="652" width="1" height="64" fill="#c0c0c0" />
<rect x="935" y="652" width="1" height="67" fill="#c0c0c0" />
<rect x="943" y="652" width="1" height="58" fill="#c0c0c0" />
<rect x="951" y="652" width="1" height="48" fill="#c0c0c0" />
<rect x="959" y="652" width="1" height="41" fill="#c0c0c0" />
<rect x="967" y="652" width="1" height="32" fill="#c0c0c0" />
<rect x="975" y="652" width="1" height="19" fill="#c0c0c0" />
<rect x="983" y="652" width="1" height="4" fill="#c0c0c0" />
<rect x="991" y="646" width="1" height="7" fill="#c0c0c0" />
<rect x="999" y="641" width="1" height="12" fill="#c0c0c0" />
<rect x="1007" y="634" width="1" height="19" fill="#c0c0c0" />
<rect x="1015" y="632" width="1" height="21" fill="#c0c0c0" />
<rect x="1023" y="631" width="1" height="22" fill="#c0c0c0" />
<rect x="1031" y="631" width="1" height="22" fill="#c0c0c0" />
<rect x="1039" y="647" width="1" height="6" fill="#c0c0c0" />
<rect x="1047" y="652" width="1" height="12" fill="#c0c0c0" />
<rect x="1055" y="652" width="1" height="28" fill="#c0c0c0" />
<rect x="1063" y="652" width="1" height="42" fill="#c0c0c0" />
<rect x="1071" y="652" width="1" height="50" fill="#c0c0c0" />
<rect x="1079" y="652" width="1" height="60" fill="#c0c0c0" />
<rect x="1087" y="652" width="1" height="54" fill="#c0c0c0" />
<rect x="1095" y="652" width="1" height="41" fill="#c0c0c0" />
<rect x="1103" y="652" width="1" height="26" fill="#c0c0c0" />
<rect x="1111" y="652" width="1" height="15" fill="#c0c0c0" />
<rect x="1119" y="652" width="1" height="8" fill="#c0c0c0" />
<rect x="1127" y="652" width="1" height="3" fill="#c0c0c0" />
<rect x="1135" y="640" width="1" height="13" fill="#c0c0c0" />
<rect x="1143" y="639" width="1" height="14" fill="#c0c0c0" />
<rect x="1151" y="636" width="1" height="17" fill="#c0c0c0" />
<rect x="1159" y="633" width="1" height="20" fill="#c0c0c0" />
<rect x="1167" y="631" width="1" height="22" fill="#c0c0c0" />
<rect x="1175" y="630" width="1" height="23" fill="#c0c0c0" />
<rect x="1183" y="633" width="1" height="20" fill="#c0c0c0" />
<rect x="1191" y="640" width="1" height="13" fill="#c0c0c0" />
<rect x="1199" y="646" width="1" height="7" fill="#c0c0c0" />
<rect x="1207" y="650" width="1" height="3" fill="#c0c0c0" />
<rect x="1215" y="652" width="1" height="2" fill="#c0c0c0" />
<rect x="1223" y="652" width="1" height="4" fill="#c0c0c0" />
<rect x="1231" y="652" width="1" height="9" fill="#c0c0c0" />
<rect x="1239" y="652" width="1" height="12" fill="#c0c0c0" />
<rect x="1247" y="652" width="1" height="23" fill="#c0c0c0" />
<rect x="1255" y="652" width="1" height="34" fill="#c0c0c0" />
<rect x="1263" y="652" width="1" height="38" fill="#c0c0c0" />
<rect x="1271" y="652" width="1" height="44" fill="#c0c0c0" />
<rect x="1279" y="652" width="1" height="40" fill="#c0c0c0" />
<rect x="1287" y="652" width="1" height="37" fill="#c0c0c0" />
<rect x="1295" y="652" width="1" height="37" fill="#c0c0c0" />
<rect x="1303" y="652" width="1" height="35" fill="#c0c0c0" />
<rect x="1311" y="652" width="1" height="31" fill="#c0c0c0" />
<rect x="1319" y="652" width="1" height="28" fill="#c0c0c0" />
<rect x="1327" y="652" width="1" height="23" fill="#c0c0c0" />
<rect x="1335" y="652" width="1" height="15" fill="#c0c0c0" />
<rect x="1343" y="652" width="1" height="9" fill="#c0c0c0" />
<rect x="1351" y="652" width="1" height="4" fill="#c0c0c0" />
<rect x="1359" y="650" width="1" height="3" fill="#c0c0c0" />
<rect x="1367" y="644" width="1" height="9" fill="#c0c0c0" />
<rect x="1375" y="636" width="1" height="17" fill="#c0c0c0" />
<rect x="1383" y="629" width="1" height="24" fill="#c0c0c0" />
<rect x="1391" y="626" width="1" height="27" fill="#c0c0c0" />
<rect x="1399" y="624" width="1" height="29" fill="#c0c0c0" />
<path d="M0.0,601.0 L7.5,604.2 L15.5,611.0 L23.5,618.0 L31.5,632.0 L39.5,646.8 L47.5,660.5 L55.5,676.8 L63.5,693.0 L71.5,705.5 L79.5,715.9 L87.5,722.5 L95.5,724.5 L103.5,722.4 L111.5,717.2 L119.5,710.5 L127.5,702.4 L135.5,693.6 L143.5,684.5 L151.5,677.9 L159.5,672.8 L167.5,668.8 L175.5,666.0 L183.5,664.7 L191.5,662.3 L199.5,659.6 L207.5,656.5 L215.5,652.3 L223.5,647.5 L231.5,642.8 L239.5,638.6 L247.5,634.4 L255.5,630.0 L263.5,626.8 L271.5,623.9 L279.5,621.9 L287.5,621.3 L295.5,620.5 L303.5,620.3 L311.5,621.3 L319.5,623.5 L327.5,626.4 L335.5,629.3 L343.5,632.6 L351.5,635.6 L359.5,638.7 L367.5,641.1 L375.5,642.8 L383.5,642.9 L391.5,642.1 L399.5,640.8 L407.5,639.6 L415.5,638.6 L423.5,637.6 L431.5,636.2 L439.5,634.8 L447.5,633.5 L455.5,632.5 L463.5,631.0 L471.5,628.8 L479.5,626.1 L487.5,622.4 L495.5,618.4 L503.5,614.0 L511.5,610.5 L519.5,608.0 L527.5,606.6 L535.5,606.5 L543.5,607.9 L551.5,611.2 L559.5,615.7 L567.5,621.2 L575.5,627.4 L583.5,633.1 L591.5,638.5 L599.5,643.5 L607.5,646.8 L615.5,649.1 L623.5,650.3 L631.5,651.0 L639.5,651.1 L647.5,650.5 L655.5,648.8 L663.5,645.4 L671.5,640.6 L679.5,636.1 L687.5,632.1 L695.5,627.8 L703.5,623.8 L711.5,621.0 L719.5,619.0 L727.5,618.4 L735.5,619.6 L743.5,621.7 L751.5,625.1 L759.5,629.5 L767.5,635.2 L775.5,642.9 L783.5,650.8 L791.5,658.8 L799.5,667.0 L807.5,675.7 L815.5,685.0 L823.5,693.9 L831.5,701.6 L839.5,708.4 L847.5,713.8 L855.5,718.4 L863.5,722.4 L871.5,725.3 L879.5,726.8 L887.5,727.4 L895.5,727.5 L903.5,727.4 L911.5,726.5 L919.5,724.6 L927.5,722.4 L935.5,720.5 L943.5,718.2 L951.5,715.3 L959.5,711.7 L967.5,707.3 L975.5,701.8 L983.5,695.0 L991.5,687.5 L999.5,679.2 L1007.5,669.9 L1015.5,661.4 L1023.5,653.8 L1031.5,647.0 L1039.5,643.0 L1047.5,642.3 L1055.5,645.0 L1063.5,650.2 L1071.5,656.9 L1079.5,665.4 L1087.5,673.6 L1095.5,680.5 L1103.5,685.5 L1111.5,687.7 L1119.5,687.2 L1127.5,684.3 L1135.5,678.5 L1143.5,671.6 L1151.5,663.3 L1159.5,655.3 L1167.5,648.5 L1175.5,643.4 L1183.5,639.6 L1191.5,637.4 L1199.5,636.6 L1207.5,637.6 L1215.5,639.0 L1223.5,641.2 L1231.5,644.1 L1239.5,647.6 L1247.5,652.4 L1255.5,658.3 L1263.5,663.8 L1271.5,669.2 L1279.5,673.8 L1287.5,677.8 L1295.5,681.4 L1303.5,684.3 L1311.5,686.4 L1319.5,686.9 L1327.5,685.7 L1335.5,683.2 L1343.5,679.4 L1351.5,675.3 L1359.5,671.1 L1367.5,666.2 L1375.5,660.6 L1383.5,654.8 L1391.5,648.9 L1399.5,643.3" fill="none" stroke="#ff0000" stroke-width="1" stroke-dasharray="3,3"/>
</g>
<g clip-path="url(#cr)">
<path d="M0,791.5 H1618" stroke="#c0c0c0" stroke-width="1" stroke-dasharray="3,3" fill="none"/>
<path d="M0,842.5 H1618" stroke="#c0c0c0" stroke-width="1" stroke-dasharray="3,3" fill="none"/>
<path d="M0,903.5 H1618" stroke="#c0c0c0" stroke-width="1" stroke-dasharray="3,3" fill="none"/>
<path d="M0.0,856.0 L7.5,852.9 L15.5,864.6 L23.5,875.8 L31.5,878.7 L39.5,874.4 L47.5,872.8 L55.5,874.1 L63.5,868.6 L71.5,869.4 L79.5,845.8 L87.5,838.0 L95.5,833.5 L103.5,832.9 L111.5,830.6 L119.5,844.0 L127.5,840.7 L135.5,840.9 L143.5,843.9 L151.5,860.3 L159.5,844.5 L167.5,838.1 L175.5,840.0 L183.5,845.0 L191.5,829.3 L199.5,834.1 L207.5,830.1 L215.5,825.0 L223.5,844.3 L231.5,836.7 L239.5,835.7 L247.5,833.8 L255.5,833.1 L263.5,834.1 L271.5,829.8 L279.5,835.4 L287.5,836.7 L295.5,840.8 L303.5,840.1 L311.5,850.2 L319.5,852.9 L327.5,845.8 L335.5,839.9 L343.5,840.8 L351.5,836.7 L359.5,844.7 L367.5,838.4 L375.5,832.6 L383.5,829.6 L391.5,837.9 L399.5,835.4 L407.5,836.0 L415.5,841.2 L423.5,833.1 L431.5,834.9 L439.5,831.6 L447.5,827.0 L455.5,829.4 L463.5,822.1 L471.5,816.1 L479.5,814.6 L487.5,810.7 L495.5,809.9 L503.5,808.1 L511.5,835.5 L519.5,837.5 L527.5,843.7 L535.5,846.4 L543.5,847.1 L551.5,860.3 L559.5,847.6 L567.5,849.3 L575.5,846.4 L583.5,845.5 L591.5,851.2 L599.5,853.7 L607.5,828.7 L615.5,836.7 L623.5,844.9 L631.5,841.0 L639.5,838.8 L647.5,833.3 L655.5,821.3 L663.5,812.8 L671.5,817.0 L679.5,820.9 L687.5,832.3 L695.5,828.0 L703.5,835.2 L711.5,847.9 L719.5,842.5 L727.5,840.4 L735.5,842.8 L743.5,838.7 L751.5,849.3 L759.5,861.5 L767.5,863.9 L775.5,878.7 L783.5,869.1 L791.5,860.7 L799.5,863.6 L807.5,869.5 L815.5,870.6 L823.5,865.9 L831.5,863.9 L839.5,869.0 L847.5,875.7 L855.5,875.8 L863.5,865.6 L871.5,859.4 L879.5,858.1 L887.5,863.9 L895.5,862.7 L903.5,863.8 L911.5,860.5 L919.5,863.1 L927.5,868.6 L935.5,873.5 L943.5,846.2 L951.5,841.2 L959.5,842.8 L967.5,837.3 L975.5,827.4 L983.5,819.5 L991.5,826.8 L999.5,829.5 L1007.5,826.0 L1015.5,831.9 L1023.5,833.5 L1031.5,835.8 L1039.5,864.8 L1047.5,870.4 L1055.5,874.0 L1063.5,875.6 L1071.5,870.7 L1079.5,875.7 L1087.5,848.4 L1095.5,836.2 L1103.5,829.6 L1111.5,833.5 L1119.5,835.6 L1127.5,835.4 L1135.5,823.4 L1143.5,839.0 L1151.5,835.8 L1159.5,834.6 L1167.5,834.8 L1175.5,835.5 L1183.5,841.0 L1191.5,849.5 L1199.5,850.6 L1207.5,848.6 L1215.5,848.1 L1223.5,849.2 L1231.5,853.7 L1239.5,852.8 L1247.5,869.7 L1255.5,872.0 L1263.5,861.4 L1271.5,866.0 L1279.5,848.3 L1287.5,849.8 L1295.5,853.4 L1303.5,850.5 L1311.5,844.9 L1319.5,847.4 L1327.5,841.0 L1335.5,833.8 L1343.5,833.8 L1351.5,832.5 L1359.5,832.0 L1367.5,826.3 L1375.5,818.4 L1383.5,819.3 L1391.5,824.0 L1399.5,824.4" fill="none" stroke="#1e90ff" stroke-width="1"/>
</g>
<rect x="0" y="28" width="1619" height="1" fill="#000" />
<rect x="0" y="581" width="1619" height="1" fill="#000" />
<rect x="0" y="583" width="1619" height="1" fill="#000" />
<rect x="0" y="753" width="1619" height="1" fill="#000" />
<rect x="0" y="755" width="1619" height="1" fill="#000" />
<rect x="0" y="929" width="1619" height="1" fill="#000" />
<rect x="1618" y="28" width="1" height="554" fill="#000" />
<rect x="1618" y="583" width="1" height="171" fill="#000" />
<rect x="1618" y="755" width="1" height="175" fill="#000" />
<rect x="1664" y="25" width="1" height="923" fill="#f0f0f0" />
<rect x="1619" y="50" width="2" height="1" fill="#000" />
<text x="1624" y="54" font-size="9" fill="#000" font-family="'DejaVu Sans Condensed','DejaVu Sans',sans-serif" font-stretch="condensed" textLength="32.4" lengthAdjust="spacing" >144.635</text>
<rect x="1619" y="83" width="2" height="1" fill="#000" />
<text x="1624" y="87" font-size="9" fill="#000" font-family="'DejaVu Sans Condensed','DejaVu Sans',sans-serif" font-stretch="condensed" textLength="32.4" lengthAdjust="spacing" >144.395</text>
<rect x="1619" y="116" width="2" height="1" fill="#000" />
<text x="1624" y="120" font-size="9" fill="#000" font-family="'DejaVu Sans Condensed','DejaVu Sans',sans-serif" font-stretch="condensed" textLength="32.4" lengthAdjust="spacing" >144.150</text>
<rect x="1619" y="149" width="2" height="1" fill="#000" />
<text x="1624" y="153" font-size="9" fill="#000" font-family="'DejaVu Sans Condensed','DejaVu Sans',sans-serif" font-stretch="condensed" textLength="32.4" lengthAdjust="spacing" >143.905</text>
<rect x="1619" y="182" width="2" height="1" fill="#000" />
<text x="1624" y="186" font-size="9" fill="#000" font-family="'DejaVu Sans Condensed','DejaVu Sans',sans-serif" font-stretch="condensed" textLength="32.4" lengthAdjust="spacing" >143.660</text>
<rect x="1619" y="215" width="2" height="1" fill="#000" />
<text x="1624" y="219" font-size="9" fill="#000" font-family="'DejaVu Sans Condensed','DejaVu Sans',sans-serif" font-stretch="condensed" textLength="32.4" lengthAdjust="spacing" >143.420</text>
<rect x="1619" y="248" width="2" height="1" fill="#000" />
<text x="1624" y="252" font-size="9" fill="#000" font-family="'DejaVu Sans Condensed','DejaVu Sans',sans-serif" font-stretch="condensed" textLength="32.4" lengthAdjust="spacing" >143.175</text>
<rect x="1619" y="281" width="2" height="1" fill="#000" />
<text x="1624" y="285" font-size="9" fill="#000" font-family="'DejaVu Sans Condensed','DejaVu Sans',sans-serif" font-stretch="condensed" textLength="32.4" lengthAdjust="spacing" >142.930</text>
<rect x="1619" y="314" width="2" height="1" fill="#000" />
<text x="1624" y="318" font-size="9" fill="#000" font-family="'DejaVu Sans Condensed','DejaVu Sans',sans-serif" font-stretch="condensed" textLength="32.4" lengthAdjust="spacing" >142.685</text>
<rect x="1619" y="347" width="2" height="1" fill="#000" />
<text x="1624" y="351" font-size="9" fill="#000" font-family="'DejaVu Sans Condensed','DejaVu Sans',sans-serif" font-stretch="condensed" textLength="32.4" lengthAdjust="spacing" >142.445</text>
<rect x="1619" y="380" width="2" height="1" fill="#000" />
<text x="1624" y="384" font-size="9" fill="#000" font-family="'DejaVu Sans Condensed','DejaVu Sans',sans-serif" font-stretch="condensed" textLength="32.4" lengthAdjust="spacing" >142.200</text>
<rect x="1619" y="413" width="2" height="1" fill="#000" />
<text x="1624" y="417" font-size="9" fill="#000" font-family="'DejaVu Sans Condensed','DejaVu Sans',sans-serif" font-stretch="condensed" textLength="32.4" lengthAdjust="spacing" >141.955</text>
<rect x="1619" y="446" width="2" height="1" fill="#000" />
<text x="1624" y="450" font-size="9" fill="#000" font-family="'DejaVu Sans Condensed','DejaVu Sans',sans-serif" font-stretch="condensed" textLength="32.4" lengthAdjust="spacing" >141.710</text>
<rect x="1619" y="479" width="2" height="1" fill="#000" />
<text x="1624" y="483" font-size="9" fill="#000" font-family="'DejaVu Sans Condensed','DejaVu Sans',sans-serif" font-stretch="condensed" textLength="32.4" lengthAdjust="spacing" >141.470</text>
<rect x="1619" y="512" width="2" height="1" fill="#000" />
<text x="1624" y="516" font-size="9" fill="#000" font-family="'DejaVu Sans Condensed','DejaVu Sans',sans-serif" font-stretch="condensed" textLength="32.4" lengthAdjust="spacing" >141.225</text>
<rect x="1619" y="545" width="2" height="1" fill="#000" />
<text x="1624" y="549" font-size="9" fill="#000" font-family="'DejaVu Sans Condensed','DejaVu Sans',sans-serif" font-stretch="condensed" textLength="32.4" lengthAdjust="spacing" >140.980</text>
<rect x="1619" y="578" width="2" height="1" fill="#000" />
<text x="1624" y="582" font-size="9" fill="#000" font-family="'DejaVu Sans Condensed','DejaVu Sans',sans-serif" font-stretch="condensed" textLength="32.4" lengthAdjust="spacing" >140.735</text>
<rect x="1620" y="263" width="41" height="11" fill="#ff0000" />
<text x="1624" y="272" font-size="9" fill="#fff" font-family="'DejaVu Sans Condensed','DejaVu Sans',sans-serif" font-stretch="condensed" textLength="32.4" lengthAdjust="spacing" >143.020</text>
<rect x="1620" y="288" width="41" height="11" fill="#ff0000" />
<text x="1624" y="297" font-size="9" fill="#fff" font-family="'DejaVu Sans Condensed','DejaVu Sans',sans-serif" font-stretch="condensed" textLength="32.4" lengthAdjust="spacing" >142.836</text>
<rect x="1620" y="318" width="41" height="11" fill="#000000" />
<text x="1624" y="327" font-size="9" fill="#fff" font-family="'DejaVu Sans Condensed','DejaVu Sans',sans-serif" font-stretch="condensed" textLength="32.4" lengthAdjust="spacing" >142.623</text>
<rect x="1620" y="337" width="41" height="11" fill="#3cc83c" />
<text x="1624" y="346" font-size="9" fill="#fff" font-family="'DejaVu Sans Condensed','DejaVu Sans',sans-serif" font-stretch="condensed" textLength="32.4" lengthAdjust="spacing" >142.475</text>
<rect x="1620" y="367" width="41" height="11" fill="#0000ff" />
<text x="1624" y="376" font-size="9" fill="#fff" font-family="'DejaVu Sans Condensed','DejaVu Sans',sans-serif" font-stretch="condensed" textLength="32.4" lengthAdjust="spacing" >142.254</text>
<rect x="1620" y="397" width="41" height="11" fill="#0000ff" />
<text x="1624" y="406" font-size="9" fill="#fff" font-family="'DejaVu Sans Condensed','DejaVu Sans',sans-serif" font-stretch="condensed" textLength="32.4" lengthAdjust="spacing" >142.032</text>
<rect x="1619" y="585" width="1" height="1" fill="#000" />
<text x="1622" y="594" font-size="9" fill="#000" font-family="'DejaVu Sans Condensed','DejaVu Sans',sans-serif" font-stretch="condensed" textLength="27.6" lengthAdjust="spacing" >0.3533</text>
<rect x="1619" y="652" width="1" height="1" fill="#000" />
<text x="1622" y="656" font-size="9" fill="#000" font-family="'DejaVu Sans Condensed','DejaVu Sans',sans-serif" font-stretch="condensed" textLength="17.8" lengthAdjust="spacing" >0.00</text>
<rect x="1619" y="752" width="1" height="1" fill="#000" />
<text x="1622" y="750" font-size="9" fill="#000" font-family="'DejaVu Sans Condensed','DejaVu Sans',sans-serif" font-stretch="condensed" textLength="30" lengthAdjust="spacing" >-0.5222</text>
<rect x="1619" y="757" width="1" height="1" fill="#000" />
<rect x="1619" y="928" width="1" height="1" fill="#000" />
<text x="1621.5" y="766" font-size="9" fill="#000" font-family="'DejaVu Sans Condensed','DejaVu Sans',sans-serif" font-stretch="condensed" textLength="14.8" lengthAdjust="spacing" >100</text>
<text x="1621" y="795" font-size="9" fill="#000" font-family="'DejaVu Sans Condensed','DejaVu Sans',sans-serif" font-stretch="condensed" textLength="9.8" lengthAdjust="spacing" >80</text>
<text x="1621" y="846" font-size="9" fill="#000" font-family="'DejaVu Sans Condensed','DejaVu Sans',sans-serif" font-stretch="condensed" textLength="9.8" lengthAdjust="spacing" >50</text>
<text x="1621" y="907" font-size="9" fill="#000" font-family="'DejaVu Sans Condensed','DejaVu Sans',sans-serif" font-stretch="condensed" textLength="9.8" lengthAdjust="spacing" >15</text>
<text x="1622" y="926" font-size="9" fill="#000" font-family="'DejaVu Sans Condensed','DejaVu Sans',sans-serif" font-stretch="condensed" textLength="4.8" lengthAdjust="spacing" >0</text>
<rect x="63" y="930" width="1" height="3" fill="#000" />
<text x="62" y="942" font-size="9" fill="#000" font-family="'DejaVu Sans Condensed','DejaVu Sans',sans-serif" font-stretch="condensed" textLength="47.8" lengthAdjust="spacing" >6 Jan 00:00</text>
<rect x="127" y="930" width="1" height="3" fill="#000" />
<text x="126" y="942" font-size="9" fill="#000" font-family="'DejaVu Sans Condensed','DejaVu Sans',sans-serif" font-stretch="condensed" textLength="47.8" lengthAdjust="spacing" >7 Jan 08:00</text>
<rect x="191" y="930" width="1" height="3" fill="#000" />
<text x="190" y="942" font-size="9" fill="#000" font-family="'DejaVu Sans Condensed','DejaVu Sans',sans-serif" font-stretch="condensed" textLength="47.8" lengthAdjust="spacing" >8 Jan 16:00</text>
<rect x="255" y="930" width="1" height="3" fill="#000" />
<text x="254" y="942" font-size="9" fill="#000" font-family="'DejaVu Sans Condensed','DejaVu Sans',sans-serif" font-stretch="condensed" textLength="52.8" lengthAdjust="spacing" >10 Jan 00:00</text>
<rect x="319" y="930" width="1" height="3" fill="#000" />
<text x="318" y="942" font-size="9" fill="#000" font-family="'DejaVu Sans Condensed','DejaVu Sans',sans-serif" font-stretch="condensed" textLength="52.8" lengthAdjust="spacing" >13 Jan 08:00</text>
<rect x="383" y="930" width="1" height="3" fill="#000" />
<text x="382" y="942" font-size="9" fill="#000" font-family="'DejaVu Sans Condensed','DejaVu Sans',sans-serif" font-stretch="condensed" textLength="52.8" lengthAdjust="spacing" >14 Jan 16:00</text>
<rect x="447" y="930" width="1" height="3" fill="#000" />
<text x="446" y="942" font-size="9" fill="#000" font-family="'DejaVu Sans Condensed','DejaVu Sans',sans-serif" font-stretch="condensed" textLength="52.8" lengthAdjust="spacing" >16 Jan 00:00</text>
<rect x="511" y="930" width="1" height="3" fill="#000" />
<text x="510" y="942" font-size="9" fill="#000" font-family="'DejaVu Sans Condensed','DejaVu Sans',sans-serif" font-stretch="condensed" textLength="52.8" lengthAdjust="spacing" >17 Jan 08:00</text>
<rect x="575" y="930" width="1" height="3" fill="#000" />
<text x="574" y="942" font-size="9" fill="#000" font-family="'DejaVu Sans Condensed','DejaVu Sans',sans-serif" font-stretch="condensed" textLength="52.8" lengthAdjust="spacing" >20 Jan 16:00</text>
<rect x="639" y="930" width="1" height="3" fill="#000" />
<text x="638" y="942" font-size="9" fill="#000" font-family="'DejaVu Sans Condensed','DejaVu Sans',sans-serif" font-stretch="condensed" textLength="52.8" lengthAdjust="spacing" >22 Jan 00:00</text>
<rect x="703" y="930" width="1" height="3" fill="#000" />
<text x="702" y="942" font-size="9" fill="#000" font-family="'DejaVu Sans Condensed','DejaVu Sans',sans-serif" font-stretch="condensed" textLength="52.8" lengthAdjust="spacing" >23 Jan 08:00</text>
<rect x="767" y="930" width="1" height="3" fill="#000" />
<text x="766" y="942" font-size="9" fill="#000" font-family="'DejaVu Sans Condensed','DejaVu Sans',sans-serif" font-stretch="condensed" textLength="52.8" lengthAdjust="spacing" >24 Jan 16:00</text>
<rect x="831" y="930" width="1" height="3" fill="#000" />
<text x="830" y="942" font-size="9" fill="#000" font-family="'DejaVu Sans Condensed','DejaVu Sans',sans-serif" font-stretch="condensed" textLength="52.8" lengthAdjust="spacing" >28 Jan 00:00</text>
<rect x="895" y="930" width="1" height="3" fill="#000" />
<text x="894" y="942" font-size="9" fill="#000" font-family="'DejaVu Sans Condensed','DejaVu Sans',sans-serif" font-stretch="condensed" textLength="52.8" lengthAdjust="spacing" >29 Jan 08:00</text>
<rect x="959" y="930" width="1" height="3" fill="#000" />
<text x="958" y="942" font-size="9" fill="#000" font-family="'DejaVu Sans Condensed','DejaVu Sans',sans-serif" font-stretch="condensed" textLength="52.8" lengthAdjust="spacing" >30 Jan 16:00</text>
<rect x="1023" y="930" width="1" height="3" fill="#000" />
<text x="1022" y="942" font-size="9" fill="#000" font-family="'DejaVu Sans Condensed','DejaVu Sans',sans-serif" font-stretch="condensed" textLength="49.7" lengthAdjust="spacing" >3 Feb 00:00</text>
<rect x="1087" y="930" width="1" height="3" fill="#000" />
<text x="1086" y="942" font-size="9" fill="#000" font-family="'DejaVu Sans Condensed','DejaVu Sans',sans-serif" font-stretch="condensed" textLength="49.7" lengthAdjust="spacing" >4 Feb 08:00</text>
<rect x="1151" y="930" width="1" height="3" fill="#000" />
<text x="1150" y="942" font-size="9" fill="#000" font-family="'DejaVu Sans Condensed','DejaVu Sans',sans-serif" font-stretch="condensed" textLength="49.7" lengthAdjust="spacing" >5 Feb 16:00</text>
<rect x="1215" y="930" width="1" height="3" fill="#000" />
<text x="1214" y="942" font-size="9" fill="#000" font-family="'DejaVu Sans Condensed','DejaVu Sans',sans-serif" font-stretch="condensed" textLength="49.7" lengthAdjust="spacing" >7 Feb 00:00</text>
<rect x="1279" y="930" width="1" height="3" fill="#000" />
<text x="1278" y="942" font-size="9" fill="#000" font-family="'DejaVu Sans Condensed','DejaVu Sans',sans-serif" font-stretch="condensed" textLength="53.7" lengthAdjust="spacing" >10 Feb 08:00</text>
<rect x="1343" y="930" width="1" height="3" fill="#000" />
<text x="1342" y="942" font-size="9" fill="#000" font-family="'DejaVu Sans Condensed','DejaVu Sans',sans-serif" font-stretch="condensed" textLength="53.7" lengthAdjust="spacing" >11 Feb 16:00</text>
<text x="-3" y="942" font-size="9" fill="#000" font-family="'DejaVu Sans Condensed','DejaVu Sans',sans-serif" font-stretch="condensed" textLength="45.6" lengthAdjust="spacing" >2 Jan 2020</text>
<rect x="0" y="0" width="1665" height="23" fill="#f0f0f0" />
<rect x="0" y="23" width="1665" height="1" fill="#f8f8f8" />
<rect x="0" y="24" width="1665" height="1" fill="#a0a0a0" />
<rect x="0" y="25" width="1665" height="1" fill="#7a7a7a" />
<rect x="0" y="26" width="1665" height="2" fill="#ffffff" />
<rect x="0" y="13" width="4" height="3" fill="#22b022" />
<rect x="0" y="10" width="2" height="9" fill="#22b022" />
<text x="8" y="15" font-size="12" fill="#000" font-family="'Liberation Sans','Noto Sans CJK SC','WenQuanYi Zen Hei',sans-serif" textLength="36" lengthAdjust="spacingAndGlyphs" >新订单</text>
<defs><linearGradient id="gbook" x1="0" y1="0" x2="1" y2="1"><stop offset="0" stop-color="#fff0a0"/><stop offset="0.5" stop-color="#e8b820"/><stop offset="1" stop-color="#b07808"/></linearGradient></defs>
<path d="M56.5,13.5 L62,6 Q63,5 64.5,6 L71.5,11.5 L66,19 Z" fill="url(#gbook)" stroke="#a06a10" stroke-width="0.9" shape-rendering="auto"/>
<path d="M57,14.5 L65.5,20 L71.5,12.5" fill="none" stroke="#8a5a10" stroke-width="1" shape-rendering="auto"/>
<defs><linearGradient id="gcube" x1="0" y1="0" x2="1" y2="0"><stop offset="0" stop-color="#1a9af8"/><stop offset="1" stop-color="#0a6ad8"/></linearGradient></defs>
<path d="M86,5 L94,4.5 L97,6.5 L97,13 L86,13 Z" fill="url(#gcube)" shape-rendering="auto"/>
<rect x="91" y="8" width="5" height="2" fill="#d8ecff" />
<path d="M85.5,19.5 Q83.5,19 84.5,16.5 Q85.5,14.5 88,15 Q89,12 92.5,12.5 Q95,12.5 96,14.5 Q99.5,14.5 99.5,17 Q99.5,19.5 97,19.5 Z" fill="#eef2fa" stroke="#5a78b0" stroke-width="0.9" shape-rendering="auto"/>
<path d="M115,6 A8,8 0 0 0 115,18" fill="none" stroke="#5a86d8" stroke-width="1" shape-rendering="auto"/>
<path d="M117,8.2 A5,5 0 0 0 117,15.8" fill="none" stroke="#5a86d8" stroke-width="1" shape-rendering="auto"/>
<path d="M124.5,6 A8,8 0 0 1 124.5,18" fill="none" stroke="#6ab070" stroke-width="1.2" shape-rendering="auto"/>
<path d="M122.5,8.2 A5,5 0 0 1 122.5,15.8" fill="none" stroke="#8ac090" stroke-width="1" shape-rendering="auto"/>
<circle cx="119.8" cy="12" r="1.7" fill="#2850c0" shape-rendering="auto"/>
<rect x="120" y="12" width="1" height="8" fill="#20a020" />
<rect x="121" y="18" width="1" height="2" fill="#20a020" />
<path d="M141.5,12 L154,12 L150,20 L146,20 Z" fill="#f2d040" shape-rendering="auto"/>
<ellipse cx="147" cy="9.5" rx="7.8" ry="2.4" fill="#4ea4e0" shape-rendering="auto"/>
<ellipse cx="147" cy="7.5" rx="3.8" ry="3.2" fill="#6ab8ec" shape-rendering="auto"/>
<circle cx="151.5" cy="16" r="3.9" fill="#d01818" shape-rendering="auto"/>
<rect x="150" y="14" width="3" height="3" fill="#fff" />
<text x="160" y="15" font-size="12" fill="#000" font-family="'Liberation Sans','Noto Sans CJK SC','WenQuanYi Zen Hei',sans-serif" textLength="47" lengthAdjust="spacingAndGlyphs" >自动交易</text>
<rect x="215" y="1" width="1" height="22" fill="#a0a0a0" />
<rect x="216" y="1" width="1" height="22" fill="#ffffff" />
<rect x="219" y="2" width="3" height="1" fill="#a0a0a0" />
<rect x="219" y="4" width="3" height="1" fill="#a0a0a0" />
<rect x="219" y="6" width="3" height="1" fill="#a0a0a0" />
<rect x="219" y="8" width="3" height="1" fill="#a0a0a0" />
<rect x="219" y="10" width="3" height="1" fill="#a0a0a0" />
<rect x="219" y="12" width="3" height="1" fill="#a0a0a0" />
<rect x="219" y="14" width="3" height="1" fill="#a0a0a0" />
<rect x="219" y="16" width="3" height="1" fill="#a0a0a0" />
<rect x="219" y="18" width="3" height="1" fill="#a0a0a0" />
<rect x="219" y="20" width="3" height="1" fill="#a0a0a0" />
<rect x="233" y="6" width="1" height="15" fill="#555" />
<rect x="231" y="18" width="14" height="1" fill="#555" />
<path d="M231.5,9 L233.5,6 L235.5,9 Z" fill="#555"/>
<path d="M242,16 L245,18 L242,20 Z" fill="#555"/>
<path d="M237.5,14 V7 M237.5,8 H240 M237.5,13 H235" stroke="#1a8a1a" stroke-width="1" fill="none"/>
<rect x="253" y="0" width="26" height="23" fill="#f6f6f6" />
<rect x="253" y="0" width="26" height="1" fill="#a0a0a0" />
<rect x="253" y="0" width="1" height="23" fill="#a0a0a0" />
<rect x="261" y="6" width="1" height="15" fill="#555" />
<rect x="259" y="18" width="14" height="1" fill="#555" />
<path d="M259.5,9 L261.5,6 L263.5,9 Z" fill="#555"/>
<path d="M270,16 L273,18 L270,20 Z" fill="#555"/>
<rect x="267" y="4" width="1" height="13" fill="#1a8a1a" />
<rect x="265" y="7" width="5" height="6" fill="#2ecc40" />
<rect x="265.5" y="7.5" width="4" height="5" fill="none" stroke="#1a8a1a"/>
<rect x="289" y="6" width="1" height="15" fill="#555" />
<rect x="287" y="18" width="14" height="1" fill="#555" />
<path d="M287.5,9 L289.5,6 L291.5,9 Z" fill="#555"/>
<path d="M298,16 L301,18 L298,20 Z" fill="#555"/>
<path d="M288,15 L293,10 L296,9 L301,13" stroke="#1a8a1a" stroke-width="1" fill="none" shape-rendering="auto"/>
<rect x="310" y="1" width="1" height="22" fill="#a0a0a0" />
<rect x="311" y="1" width="1" height="22" fill="#ffffff" />
<path d="M328,14 L333,19" stroke="#c8a020" stroke-width="3" shape-rendering="auto"/>
<circle cx="325" cy="10" r="5.5" fill="#cfe2f8" stroke="#3a7ad0" stroke-width="1.3" shape-rendering="auto"/>
<rect x="322" y="9" width="7" height="2" fill="#2a64c0" />
<rect x="324" y="7" width="2" height="7" fill="#2a64c0" />
<path d="M356,14 L361,19" stroke="#c8a020" stroke-width="3" shape-rendering="auto"/>
<circle cx="353" cy="10" r="5.5" fill="#cfe2f8" stroke="#3a7ad0" stroke-width="1.3" shape-rendering="auto"/>
<rect x="350" y="9" width="7" height="2" fill="#2a64c0" />
<rect x="375" y="4" width="8" height="8" fill="#2e9e1e" />
<rect x="376" y="7" width="6" height="3" fill="#ffffff" />
<rect x="376" y="10" width="1" height="1" fill="#ffffff" />
<rect x="381" y="10" width="1" height="1" fill="#ffffff" />
<rect x="377" y="8" width="4" height="1" fill="#a0d0a0" />
<rect x="376" y="5" width="1" height="1" fill="#d0e0ff" />
<rect x="383" y="4" width="8" height="8" fill="#1e50d0" />
<rect x="384" y="7" width="6" height="3" fill="#ffffff" />
<rect x="384" y="10" width="1" height="1" fill="#ffffff" />
<rect x="389" y="10" width="1" height="1" fill="#ffffff" />
<rect x="385" y="8" width="4" height="1" fill="#a0b8f0" />
<rect x="384" y="5" width="1" height="1" fill="#d0e0ff" />
<rect x="375" y="12" width="8" height="8" fill="#1e50d0" />
<rect x="376" y="15" width="6" height="3" fill="#ffffff" />
<rect x="376" y="18" width="1" height="1" fill="#ffffff" />
<rect x="381" y="18" width="1" height="1" fill="#ffffff" />
<rect x="377" y="16" width="4" height="1" fill="#a0b8f0" />
<rect x="376" y="13" width="1" height="1" fill="#d0e0ff" />
<rect x="383" y="12" width="8" height="8" fill="#2e9e1e" />
<rect x="384" y="15" width="6" height="3" fill="#ffffff" />
<rect x="384" y="18" width="1" height="1" fill="#ffffff" />
<rect x="389" y="18" width="1" height="1" fill="#ffffff" />
<rect x="385" y="16" width="4" height="1" fill="#a0d0a0" />
<rect x="384" y="13" width="1" height="1" fill="#d0e0ff" />
<rect x="400" y="1" width="1" height="22" fill="#a0a0a0" />
<rect x="401" y="1" width="1" height="22" fill="#ffffff" />
<rect x="405" y="0" width="25" height="23" fill="#f6f6f6" />
<rect x="405" y="0" width="25" height="1" fill="#a0a0a0" />
<rect x="405" y="0" width="1" height="23" fill="#a0a0a0" />
<rect x="413" y="6" width="1" height="15" fill="#555" />
<rect x="411" y="18" width="14" height="1" fill="#555" />
<path d="M411.5,9 L413.5,6 L415.5,9 Z" fill="#555"/>
<path d="M422,16 L425,18 L422,20 Z" fill="#555"/>
<path d="M419,8 L423,11 L419,14 Z" fill="none" stroke="#1aa01a" stroke-width="1.2" shape-rendering="auto"/>
<rect x="433" y="0" width="26" height="23" fill="#f6f6f6" />
<rect x="433" y="0" width="26" height="1" fill="#a0a0a0" />
<rect x="433" y="0" width="1" height="23" fill="#a0a0a0" />
<rect x="440" y="6" width="1" height="15" fill="#555" />
<rect x="438" y="18" width="14" height="1" fill="#555" />
<path d="M438.5,9 L440.5,6 L442.5,9 Z" fill="#555"/>
<path d="M449,16 L452,18 L449,20 Z" fill="#555"/>
<rect x="447" y="6" width="1" height="11" fill="#1a6aa0" />
<path d="M453,11 L449,11 M451,9 L449,11 L451,13" stroke="#e05010" stroke-width="1.3" fill="none" shape-rendering="auto"/>
<rect x="462" y="1" width="1" height="22" fill="#a0a0a0" />
<rect x="463" y="1" width="1" height="22" fill="#ffffff" />
<path d="M472.5,4.5 H479 L481.5,7 V17.5 H472.5 Z" fill="#fafafa" stroke="#707070" stroke-width="1"/>
<rect x="475" y="13" width="14" height="5" fill="#1d8a1d" />
<rect x="479" y="9" width="6" height="13" fill="#1d8a1d" />
<rect x="476" y="14" width="12" height="3" fill="#3cd23c" />
<rect x="480" y="10" width="4" height="11" fill="#3cd23c" />
<path d="M494,10 L500,10 L497,13 Z" fill="#000"/>
<circle cx="518" cy="11.7" r="8" fill="#1f62c8" shape-rendering="auto"/>
<circle cx="518" cy="11.7" r="6" fill="#f4f8ff" shape-rendering="auto"/>
<path d="M518,8 V12 H521" stroke="#333" stroke-width="1" fill="none"/>
<path d="M533,10 L539,10 L536,13 Z" fill="#000"/>
<rect x="549" y="5" width="17" height="14" fill="#2a5ed0" />
<rect x="550" y="7" width="15" height="11" fill="#ffffff" />
<path d="M551,12 L554,10 L557,11 L560,9 L563,10" stroke="#c03020" fill="none" stroke-width="1" shape-rendering="auto"/>
<path d="M551,16 L554,14 L557,15 L560,13 L563,15" stroke="#20a020" fill="none" stroke-width="1" shape-rendering="auto"/>
<rect x="550" y="12" width="15" height="1" fill="#8aa8e0" />
<path d="M572,10 L578,10 L575,13 Z" fill="#000"/>
<rect x="583" y="1" width="1" height="22" fill="#a0a0a0" />
<rect x="584" y="1" width="1" height="22" fill="#ffffff" />
<rect x="587" y="2" width="3" height="1" fill="#a0a0a0" />
<rect x="587" y="4" width="3" height="1" fill="#a0a0a0" />
<rect x="587" y="6" width="3" height="1" fill="#a0a0a0" />
<rect x="587" y="8" width="3" height="1" fill="#a0a0a0" />
<rect x="587" y="10" width="3" height="1" fill="#a0a0a0" />
<rect x="587" y="12" width="3" height="1" fill="#a0a0a0" />
<rect x="587" y="14" width="3" height="1" fill="#a0a0a0" />
<rect x="587" y="16" width="3" height="1" fill="#a0a0a0" />
<rect x="587" y="18" width="3" height="1" fill="#a0a0a0" />
<rect x="587" y="20" width="3" height="1" fill="#a0a0a0" />
<rect x="593" y="0" width="25" height="23" fill="#f6f6f6" />
<rect x="593" y="0" width="25" height="1" fill="#a0a0a0" />
<rect x="593" y="0" width="1" height="23" fill="#a0a0a0" />
<path d="M601,5 L601,17 L604,14 L606,19 L608,18 L606,13 L610,13 Z" fill="#3a3a3a" shape-rendering="auto"/>
<rect x="633" y="5" width="1" height="15" fill="#555" />
<rect x="626" y="12" width="15" height="1" fill="#555" />
<rect x="633" y="12" width="1" height="1" fill="#f0f0f0" />
<rect x="650" y="1" width="1" height="22" fill="#a0a0a0" />
<rect x="651" y="1" width="1" height="22" fill="#ffffff" />
<rect x="667" y="6" width="1" height="13" fill="#555" />
<rect x="690" y="12" width="12" height="1" fill="#555" />
<path d="M718,19 L730,7" stroke="#555" stroke-width="1" shape-rendering="auto"/>
<path d="M744,15 L752,6 M747,18 L756,8 M746,9 L748,12 M749,8 L751,11" stroke="#555" stroke-width="1" fill="none" shape-rendering="auto"/>
<text x="754" y="20" font-size="6.5" fill="#444" font-family="'DejaVu Sans Condensed','DejaVu Sans',sans-serif" font-stretch="condensed" font-weight="bold" >E</text>
<rect x="773" y="5" width="1" height="1" fill="#555" />
<rect x="775" y="5" width="1" height="1" fill="#555" />
<rect x="777" y="5" width="1" height="1" fill="#555" />
<rect x="779" y="5" width="1" height="1" fill="#555" />
<rect x="781" y="5" width="1" height="1" fill="#555" />
<rect x="783" y="5" width="1" height="1" fill="#555" />
<rect x="785" y="5" width="1" height="1" fill="#555" />
<rect x="773" y="8" width="1" height="1" fill="#555" />
<rect x="775" y="8" width="1" height="1" fill="#555" />
<rect x="777" y="8" width="1" height="1" fill="#555" />
<rect x="779" y="8" width="1" height="1" fill="#555" />
<rect x="781" y="8" width="1" height="1" fill="#555" />
<rect x="783" y="8" width="1" height="1" fill="#555" />
<rect x="785" y="8" width="1" height="1" fill="#555" />
<rect x="773" y="12" width="1" height="1" fill="#555" />
<rect x="775" y="12" width="1" height="1" fill="#555" />
<rect x="777" y="12" width="1" height="1" fill="#555" />
<rect x="779" y="12" width="1" height="1" fill="#555" />
<rect x="781" y="12" width="1" height="1" fill="#555" />
<rect x="783" y="12" width="1" height="1" fill="#555" />
<rect x="785" y="12" width="1" height="1" fill="#555" />
<rect x="773" y="16" width="1" height="1" fill="#555" />
<rect x="775" y="16" width="1" height="1" fill="#555" />
<rect x="777" y="16" width="1" height="1" fill="#555" />
<rect x="779" y="16" width="1" height="1" fill="#555" />
<rect x="781" y="16" width="1" height="1" fill="#555" />
<rect x="783" y="16" width="1" height="1" fill="#555" />
<rect x="785" y="16" width="1" height="1" fill="#555" />
<text x="781" y="20" font-size="6.5" fill="#444" font-family="'DejaVu Sans Condensed','DejaVu Sans',sans-serif" font-stretch="condensed" font-weight="bold" >F</text>
<text x="803.5" y="16.5" font-size="11" fill="#505050" font-family="'Liberation Sans', Arial, sans-serif" textLength="8" lengthAdjust="spacingAndGlyphs" font-weight="bold" >A</text>
<rect x="830" y="5" width="1" height="1" fill="#555" />
<rect x="830" y="18" width="1" height="1" fill="#555" />
<rect x="832" y="5" width="1" height="1" fill="#555" />
<rect x="832" y="18" width="1" height="1" fill="#555" />
<rect x="834" y="5" width="1" height="1" fill="#555" />
<rect x="834" y="18" width="1" height="1" fill="#555" />
<rect x="836" y="5" width="1" height="1" fill="#555" />
<rect x="836" y="18" width="1" height="1" fill="#555" />
<rect x="838" y="5" width="1" height="1" fill="#555" />
<rect x="838" y="18" width="1" height="1" fill="#555" />
<rect x="840" y="5" width="1" height="1" fill="#555" />
<rect x="840" y="18" width="1" height="1" fill="#555" />
<rect x="830" y="5" width="1" height="1" fill="#555" />
<rect x="841" y="5" width="1" height="1" fill="#555" />
<rect x="830" y="7" width="1" height="1" fill="#555" />
<rect x="841" y="7" width="1" height="1" fill="#555" />
<rect x="830" y="9" width="1" height="1" fill="#555" />
<rect x="841" y="9" width="1" height="1" fill="#555" />
<rect x="830" y="11" width="1" height="1" fill="#555" />
<rect x="841" y="11" width="1" height="1" fill="#555" />
<rect x="830" y="13" width="1" height="1" fill="#555" />
<rect x="841" y="13" width="1" height="1" fill="#555" />
<rect x="830" y="15" width="1" height="1" fill="#555" />
<rect x="841" y="15" width="1" height="1" fill="#555" />
<rect x="830" y="17" width="1" height="1" fill="#555" />
<rect x="841" y="17" width="1" height="1" fill="#555" />
<text x="832" y="16.5" font-size="10" fill="#555" font-family="'DejaVu Sans Condensed','DejaVu Sans',sans-serif" font-stretch="condensed" textLength="7" lengthAdjust="spacing" font-weight="bold" >T</text>
<path d="M858,9 L861,6 L864,9 L861,10 Z M864,15 L867,12 L870,15 L867,18 Z" fill="#444" shape-rendering="auto"/>
<path d="M859,12 L862,15 L866,10" stroke="#444" stroke-width="1.3" fill="none" shape-rendering="auto"/>
<path d="M878,10 L884,10 L881,13 Z" fill="#000"/>
<rect x="889" y="0" width="1" height="24" fill="#a0a0a0" />
<rect x="890" y="0" width="1" height="24" fill="#fff" />
<rect x="893" y="2" width="3" height="1" fill="#a0a0a0" />
<rect x="893" y="4" width="3" height="1" fill="#a0a0a0" />
<rect x="893" y="6" width="3" height="1" fill="#a0a0a0" />
<rect x="893" y="8" width="3" height="1" fill="#a0a0a0" />
<rect x="893" y="10" width="3" height="1" fill="#a0a0a0" />
<rect x="893" y="12" width="3" height="1" fill="#a0a0a0" />
<rect x="893" y="14" width="3" height="1" fill="#a0a0a0" />
<rect x="893" y="16" width="3" height="1" fill="#a0a0a0" />
<rect x="893" y="18" width="3" height="1" fill="#a0a0a0" />
<rect x="893" y="20" width="3" height="1" fill="#a0a0a0" />
<rect x="1039" y="0" width="26" height="23" fill="#f6f6f6" />
<rect x="1039" y="0" width="26" height="1" fill="#a0a0a0" />
<rect x="1039" y="0" width="1" height="23" fill="#a0a0a0" />
<text x="904" y="16" font-size="9.8" fill="#383838" font-family="'DejaVu Sans Condensed','DejaVu Sans',sans-serif" textLength="13" lengthAdjust="spacingAndGlyphs" font-stretch="condensed">M1</text>
<text x="932" y="16" font-size="9.8" fill="#383838" font-family="'DejaVu Sans Condensed','DejaVu Sans',sans-serif" textLength="13" lengthAdjust="spacingAndGlyphs" font-stretch="condensed">M5</text>
<text x="959" y="16" font-size="9.8" fill="#383838" font-family="'DejaVu Sans Condensed','DejaVu Sans',sans-serif" textLength="17" lengthAdjust="spacingAndGlyphs" font-stretch="condensed">M15</text>
<text x="987" y="16" font-size="9.8" fill="#383838" font-family="'DejaVu Sans Condensed','DejaVu Sans',sans-serif" textLength="17" lengthAdjust="spacingAndGlyphs" font-stretch="condensed">M30</text>
<text x="1017" y="16" font-size="9.8" fill="#383838" font-family="'DejaVu Sans Condensed','DejaVu Sans',sans-serif" textLength="12" lengthAdjust="spacingAndGlyphs" font-stretch="condensed">H1</text>
<text x="1044" y="16" font-size="9.8" fill="#383838" font-family="'DejaVu Sans Condensed','DejaVu Sans',sans-serif" textLength="13" lengthAdjust="spacingAndGlyphs" font-stretch="condensed">H4</text>
<text x="1073" y="16" font-size="9.8" fill="#383838" font-family="'DejaVu Sans Condensed','DejaVu Sans',sans-serif" textLength="12" lengthAdjust="spacingAndGlyphs" font-stretch="condensed">D1</text>
<text x="1101" y="16" font-size="9.8" fill="#383838" font-family="'DejaVu Sans Condensed','DejaVu Sans',sans-serif" textLength="14" lengthAdjust="spacingAndGlyphs" font-stretch="condensed">W1</text>
<text x="1127" y="16" font-size="9.8" fill="#383838" font-family="'DejaVu Sans Condensed','DejaVu Sans',sans-serif" textLength="15" lengthAdjust="spacingAndGlyphs" font-stretch="condensed">MN</text>
<rect x="1150" y="0" width="1" height="24" fill="#a0a0a0" />
<rect x="1151" y="0" width="1" height="24" fill="#fff" />
<circle cx="1620.5" cy="9.5" r="3.8" fill="#f8f8ff" stroke="#1e5fd0" stroke-width="1.4" shape-rendering="auto"/>
<path d="M1617.5,12.5 L1613.5,16.5" stroke="#1e5fd0" stroke-width="2.2" shape-rendering="auto"/>
<ellipse cx="1653" cy="9" rx="6.3" ry="4.3" fill="#f2f2f6" stroke="#888" stroke-width="1" shape-rendering="auto"/>
<path d="M1655,13 L1656,15.5 L1653,13.2" fill="#888" shape-rendering="auto"/>
<ellipse cx="1644.5" cy="13.5" rx="5" ry="3.7" fill="#f2f2f6" stroke="#888" stroke-width="1" shape-rendering="auto"/>
<path d="M1642,17 L1641.5,19 L1644,17.2" fill="#888" shape-rendering="auto"/>
<g clip-path="url(#cm)">
<path d="M1263.6,506.5 L1407,284" stroke="#ff0000" stroke-width="3.2" fill="none" stroke-linecap="square" shape-rendering="auto"/>
<path d="M1412.3,275.3 L1402.9,282.4 L1410.7,287.4 Z" fill="#ff0000" stroke="#ff0000" stroke-width="1.2" stroke-linejoin="round" shape-rendering="auto"/>
<rect x="1321" y="340" width="113" height="9" fill="#00ff00" />
<rect x="1488" y="343" width="8" height="1" fill="#ff0000" />
<rect x="1494.5" y="341.5" width="3" height="3" fill="#fff" stroke="#ff0000" stroke-width="1"/>
<rect x="1498.5" y="331.5" width="73" height="24" fill="#fff" stroke="#ff0000" stroke-width="1"/>
<text x="1500.2" y="352" font-size="22.5" fill="#ff0000" font-family="'Liberation Sans', Arial, sans-serif" textLength="70" lengthAdjust="spacingAndGlyphs" >142.475</text>
<text x="1453" y="398" font-size="31" fill="#000" font-family="'Liberation Sans','Noto Sans CJK SC','WenQuanYi Zen Hei',sans-serif" textLength="161" lengthAdjust="spacingAndGlyphs" font-weight="400" >多空转折点</text>
<text x="1454" y="397" font-size="31" fill="#00ff00" font-family="'Liberation Sans','Noto Sans CJK SC','WenQuanYi Zen Hei',sans-serif" textLength="161" lengthAdjust="spacingAndGlyphs" font-weight="400" >多空转折点</text>
<rect x="-1.5" y="267.5" width="4" height="4" fill="#fff" stroke="#ff0000" stroke-width="1"/>
<rect x="1613.5" y="267.5" width="4" height="4" fill="#fff" stroke="#ff0000" stroke-width="1"/>
<rect x="-1.5" y="292.5" width="4" height="4" fill="#fff" stroke="#ff0000" stroke-width="1"/>
<rect x="1613.5" y="292.5" width="4" height="4" fill="#fff" stroke="#ff0000" stroke-width="1"/>
<rect x="-1.5" y="341.5" width="4" height="4" fill="#fff" stroke="#32cd32" stroke-width="1"/>
<rect x="1613.5" y="341.5" width="4" height="4" fill="#fff" stroke="#32cd32" stroke-width="1"/>
<rect x="-1.5" y="371.5" width="4" height="4" fill="#fff" stroke="#0000ff" stroke-width="1"/>
<rect x="1613.5" y="371.5" width="4" height="4" fill="#fff" stroke="#0000ff" stroke-width="1"/>
<rect x="-1.5" y="401.5" width="4" height="4" fill="#fff" stroke="#0000ff" stroke-width="1"/>
<rect x="1613.5" y="401.5" width="4" height="4" fill="#fff" stroke="#0000ff" stroke-width="1"/>
</g>
<path d="M1402,29 L1411,29 L1406.5,34 Z" fill="#c0c0c0"/>
<path d="M2,39 L5.5,35 L9,39 Z" fill="#000" shape-rendering="auto"/>
<text x="14" y="40" font-size="9.8" fill="#000" font-family="'DejaVu Sans Condensed','DejaVu Sans',sans-serif" textLength="52.8" lengthAdjust="spacingAndGlyphs" font-stretch="condensed">GBPJPY-,H4</text>
<text x="73.6" y="40" font-size="9" fill="#000" font-family="'DejaVu Sans Condensed','DejaVu Sans',sans-serif" font-stretch="condensed" textLength="32.4" lengthAdjust="spacing" >142.638</text>
<text x="109.8" y="40" font-size="9" fill="#000" font-family="'DejaVu Sans Condensed','DejaVu Sans',sans-serif" font-stretch="condensed" textLength="32.4" lengthAdjust="spacing" >142.704</text>
<text x="145.4" y="40" font-size="9" fill="#000" font-family="'DejaVu Sans Condensed','DejaVu Sans',sans-serif" font-stretch="condensed" textLength="32.4" lengthAdjust="spacing" >142.606</text>
<text x="181.7" y="40" font-size="9" fill="#000" font-family="'DejaVu Sans Condensed','DejaVu Sans',sans-serif" font-stretch="condensed" textLength="32.4" lengthAdjust="spacing" >142.623</text>
<text x="3" y="596" font-size="9" fill="#000" font-family="'DejaVu Sans Condensed','DejaVu Sans',sans-serif" font-stretch="condensed" textLength="128" lengthAdjust="spacing" >MACD(12,26,9) 0.1523 0.0479</text>
<text x="3" y="768" font-size="9" fill="#000" font-family="'DejaVu Sans Condensed','DejaVu Sans',sans-serif" font-stretch="condensed" textLength="68" lengthAdjust="spacing" >RSI(14) 60.7148</text>
<defs>
<linearGradient id="gtab" x1="0" y1="0" x2="0" y2="1"><stop offset="0" stop-color="#fb5f5f"/><stop offset="1" stop-color="#e43a3a"/></linearGradient>
<linearGradient id="gbox" x1="0" y1="0" x2="0" y2="1"><stop offset="0" stop-color="#e03434"/><stop offset="0.5" stop-color="#cf1e1e"/><stop offset="1" stop-color="#b30000"/></linearGradient>
<linearGradient id="gbtn" x1="0" y1="0" x2="0" y2="1"><stop offset="0" stop-color="#f4f4f4"/><stop offset="0.45" stop-color="#e6e6e6"/><stop offset="0.5" stop-color="#d8d8d8"/><stop offset="1" stop-color="#cfcfcf"/></linearGradient>
</defs>
<rect x="0" y="46" width="223" height="67" fill="#fff" />
<rect x="2" y="72" width="109" height="40" fill="#b01010" />
<rect x="3" y="73" width="107" height="38" fill="url(#gbox)" />
<rect x="2" y="48" width="52" height="25" fill="#b01010" />
<rect x="3" y="49" width="50" height="24" fill="url(#gtab)" />
<rect x="6" y="71" width="44" height="1" fill="#7a0000" />
<rect x="6" y="72" width="44" height="1" fill="#f07070" />
<rect x="113" y="72" width="108" height="40" fill="#b01010" />
<rect x="114" y="73" width="106" height="38" fill="url(#gbox)" />
<rect x="169" y="48" width="52" height="25" fill="#b01010" />
<rect x="170" y="49" width="50" height="24" fill="url(#gtab)" />
<rect x="173" y="71" width="44" height="1" fill="#7a0000" />
<rect x="173" y="72" width="44" height="1" fill="#f07070" />
<rect x="54" y="48" width="115" height="24" fill="#fff" />
<rect x="111" y="69" width="2" height="43" fill="#fff" />
<rect x="56" y="48" width="111" height="22" fill="#a8a8a8" />
<rect x="57" y="49" width="109" height="20" fill="#fff" />
<rect x="57" y="49" width="20" height="20" fill="url(#gbtn)" />
<rect x="77" y="49" width="1" height="20" fill="#a8a8a8" />
<rect x="146" y="49" width="20" height="20" fill="url(#gbtn)" />
<rect x="145" y="49" width="1" height="20" fill="#a8a8a8" />
<path d="M63.5,57 L69.5,57 L66.5,60 Z" fill="#4a5fc0"/>
<path d="M152.5,60 L158.5,60 L155.5,57 Z" fill="#4a5fc0"/>
<text x="141.7" y="63" font-size="12.5" fill="#000" font-family="'Liberation Sans', Arial, sans-serif" text-anchor="end" >1.00</text>
<text x="14.4" y="64" font-size="12" fill="#fff" font-family="'Liberation Sans', Arial, sans-serif" textLength="25.5" lengthAdjust="spacingAndGlyphs" >SELL</text>
<text x="181.5" y="64" font-size="12" fill="#fff" font-family="'Liberation Sans', Arial, sans-serif" textLength="23" lengthAdjust="spacingAndGlyphs" >BUY</text>
<text x="25.5" y="103" font-size="12.5" fill="#fff" font-family="'Liberation Sans', Arial, sans-serif" textLength="19.5" lengthAdjust="spacingAndGlyphs" font-weight="bold" >142</text>
<text x="135.4" y="103" font-size="12.5" fill="#fff" font-family="'Liberation Sans', Arial, sans-serif" textLength="20" lengthAdjust="spacingAndGlyphs" font-weight="bold" >142</text>
<text x="48.3" y="103.3" font-size="34" fill="#fff" font-family="'DejaVu Sans',sans-serif" stroke="#fff" stroke-width="0.7" textLength="38.8" lengthAdjust="spacingAndGlyphs" font-weight="200" >62</text>
<text x="159.6" y="103.3" font-size="34" fill="#fff" font-family="'DejaVu Sans',sans-serif" stroke="#fff" stroke-width="0.7" textLength="39" lengthAdjust="spacingAndGlyphs" font-weight="200" >65</text>
<text x="88.5" y="86.5" font-size="11" fill="#fff" font-family="'Liberation Sans', Arial, sans-serif" textLength="6.2" lengthAdjust="spacingAndGlyphs" font-weight="bold" >3</text>
<text x="200.3" y="86.5" font-size="11" fill="#fff" font-family="'Liberation Sans', Arial, sans-serif" textLength="6.7" lengthAdjust="spacingAndGlyphs" font-weight="bold" >8</text>
</svg>
</body></html>
